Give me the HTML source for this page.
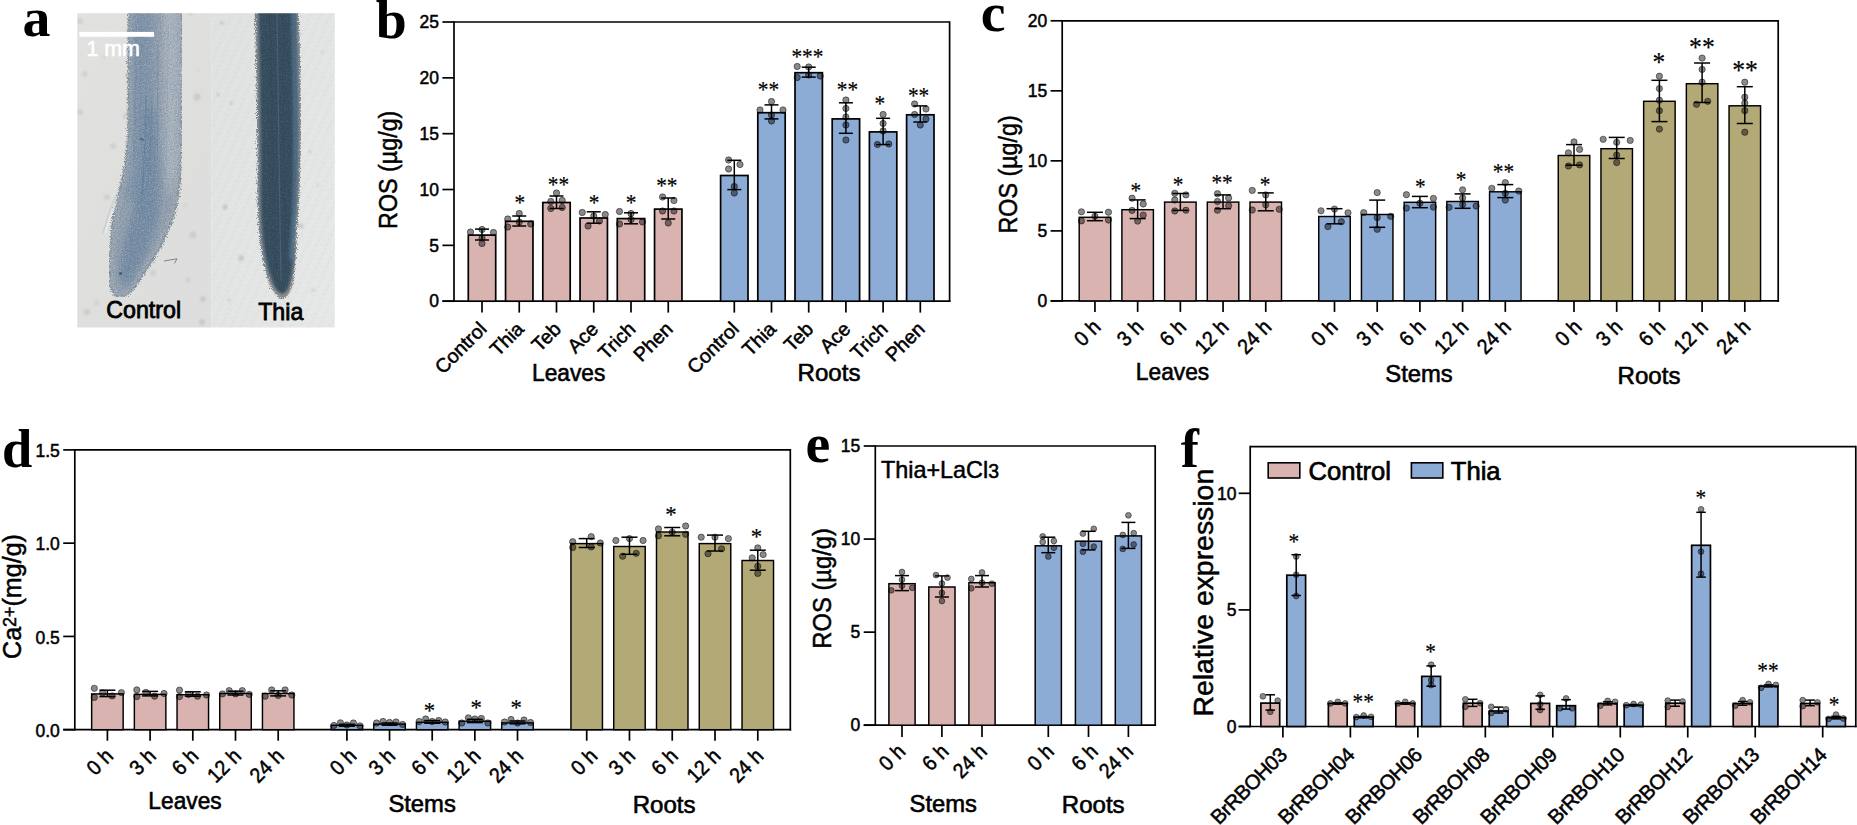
<!DOCTYPE html>
<html lang="en"><head><meta charset="utf-8"><title>Figure</title>
<style>html,body{margin:0;padding:0;background:#fff;}body{width:1857px;height:825px;overflow:hidden;}svg{display:block;}</style>
</head><body>
<svg width="1857" height="825" viewBox="0 0 1857 825">
<rect width="1857" height="825" fill="#fff"/>
<text x="22.60" y="35.60" font-family='"Liberation Serif", "Times New Roman", serif' font-size="55.8" font-weight="bold" text-anchor="start" fill="#000">a</text>
<defs>
<clipPath id="clipL"><rect x="77.3" y="13.2" width="133.9" height="314.3"/></clipPath>
<clipPath id="clipR"><rect x="211.2" y="13.2" width="123.6" height="314.3"/></clipPath>
<filter id="fuzz" x="-30%" y="-10%" width="160%" height="120%">
<feTurbulence type="fractalNoise" baseFrequency="0.85" numOctaves="2" seed="7" result="n"/>
<feDisplacementMap in="SourceGraphic" in2="n" scale="7" xChannelSelector="R" yChannelSelector="G"/>
<feGaussianBlur stdDeviation="0.7"/>
</filter>
<filter id="soft" x="-30%" y="-10%" width="160%" height="120%"><feGaussianBlur stdDeviation="3"/></filter>
<filter id="soft2" x="-30%" y="-10%" width="160%" height="120%"><feGaussianBlur stdDeviation="1.6"/></filter>
<filter id="spot" x="-100%" y="-100%" width="300%" height="300%"><feGaussianBlur stdDeviation="0.9"/></filter>
<filter id="grainC" x="0" y="0" width="100%" height="100%" color-interpolation-filters="sRGB">
<feTurbulence type="fractalNoise" baseFrequency="0.75" numOctaves="2" seed="11" result="n"/>
<feColorMatrix in="n" type="matrix" values="0 0 0 0 0.86  0 0 0 0 0.87  0 0 0 0 0.87  0.8 0 0 0 -0.30" result="w0"/><feGaussianBlur in="w0" stdDeviation="0.6" result="w"/>
<feColorMatrix in="n" type="matrix" values="0 0 0 0 0.30  0 0 0 0 0.38  0 0 0 0 0.48  0 -0.8 0 0 0.48" result="d0"/><feGaussianBlur in="d0" stdDeviation="0.6" result="d"/>
<feComposite in="w" in2="SourceAlpha" operator="in" result="w2"/>
<feComposite in="d" in2="SourceAlpha" operator="in" result="d2"/>
<feMerge><feMergeNode in="SourceGraphic"/><feMergeNode in="w2"/><feMergeNode in="d2"/></feMerge>
</filter>
<filter id="grainT" x="0" y="0" width="100%" height="100%" color-interpolation-filters="sRGB">
<feTurbulence type="fractalNoise" baseFrequency="0.75" numOctaves="2" seed="23" result="n"/>
<feColorMatrix in="n" type="matrix" values="0 0 0 0 0.62  0 0 0 0 0.66  0 0 0 0 0.70  0.5 0 0 0 -0.21" result="w0"/><feGaussianBlur in="w0" stdDeviation="0.6" result="w"/>
<feComposite in="w" in2="SourceAlpha" operator="in" result="w2"/>
<feMerge><feMergeNode in="SourceGraphic"/><feMergeNode in="w2"/></feMerge>
</filter>
<linearGradient id="bgL" x1="0" y1="0" x2="1" y2="1"><stop offset="0" stop-color="#e1e1df"/><stop offset="1" stop-color="#dcdddc"/></linearGradient>
<linearGradient id="bgR" x1="0" y1="0" x2="1" y2="1"><stop offset="0" stop-color="#dfe1e0"/><stop offset="1" stop-color="#e6e8e7"/></linearGradient>
<pattern id="dotsR" width="9" height="5.2" patternUnits="userSpaceOnUse" patternTransform="rotate(24)">
<circle cx="2" cy="2" r="0.9" fill="#c9cccb" fill-opacity="0.7"/><circle cx="6.5" cy="2.3" r="0.7" fill="#f2f3f3" fill-opacity="0.8"/>
</pattern>
</defs>
<rect x="77.3" y="13.2" width="133.9" height="314.3" fill="url(#bgL)"/>
<rect x="211.2" y="13.2" width="123.6" height="314.3" fill="url(#bgR)"/>
<rect x="211.2" y="13.2" width="123.6" height="314.3" fill="url(#dotsR)" opacity="0.55"/>
<g clip-path="url(#clipL)" filter="url(#spot)">
<circle cx="80" cy="21" r="2.6" fill="#8f918f" fill-opacity="0.35"/><circle cx="80" cy="21" r="1.04" fill="#e8e8e6" fill-opacity="0.7"/>
<circle cx="85" cy="74" r="2.4" fill="#8f918f" fill-opacity="0.3"/><circle cx="85" cy="74" r="0.96" fill="#e8e8e6" fill-opacity="0.7"/>
<circle cx="80" cy="112" r="2.6" fill="#8f918f" fill-opacity="0.35"/><circle cx="80" cy="112" r="1.04" fill="#e8e8e6" fill-opacity="0.7"/>
<circle cx="126" cy="116" r="3" fill="#8f918f" fill-opacity="0.3"/><circle cx="126" cy="116" r="1.20" fill="#e8e8e6" fill-opacity="0.7"/>
<circle cx="127" cy="75" r="2.2" fill="#8f918f" fill-opacity="0.25"/><circle cx="127" cy="75" r="0.88" fill="#e8e8e6" fill-opacity="0.7"/>
<circle cx="197" cy="97" r="3.2" fill="#8f918f" fill-opacity="0.35"/><circle cx="197" cy="97" r="1.28" fill="#e8e8e6" fill-opacity="0.7"/>
<circle cx="113" cy="146" r="2.6" fill="#8f918f" fill-opacity="0.3"/><circle cx="113" cy="146" r="1.04" fill="#e8e8e6" fill-opacity="0.7"/>
<circle cx="104" cy="57" r="1.6" fill="#8f918f" fill-opacity="0.25"/><circle cx="104" cy="57" r="0.64" fill="#e8e8e6" fill-opacity="0.7"/>
<circle cx="193" cy="235" r="3" fill="#8f918f" fill-opacity="0.35"/><circle cx="193" cy="235" r="1.20" fill="#e8e8e6" fill-opacity="0.7"/>
<circle cx="181" cy="26" r="1.5" fill="#8f918f" fill-opacity="0.3"/><circle cx="181" cy="26" r="0.60" fill="#e8e8e6" fill-opacity="0.7"/>
<circle cx="107" cy="197" r="2.6" fill="#8f918f" fill-opacity="0.3"/><circle cx="107" cy="197" r="1.04" fill="#e8e8e6" fill-opacity="0.7"/>
<circle cx="153" cy="273" r="2.5" fill="#8f918f" fill-opacity="0.3"/><circle cx="153" cy="273" r="1.00" fill="#e8e8e6" fill-opacity="0.7"/>
<circle cx="188" cy="280" r="2.2" fill="#8f918f" fill-opacity="0.3"/><circle cx="188" cy="280" r="0.88" fill="#e8e8e6" fill-opacity="0.7"/>
<circle cx="203" cy="299" r="2.5" fill="#8f918f" fill-opacity="0.4"/><circle cx="203" cy="299" r="1.00" fill="#e8e8e6" fill-opacity="0.7"/>
<circle cx="97" cy="303" r="2.2" fill="#8f918f" fill-opacity="0.3"/><circle cx="97" cy="303" r="0.88" fill="#e8e8e6" fill-opacity="0.7"/>
<circle cx="87" cy="312" r="2.6" fill="#8f918f" fill-opacity="0.4"/><circle cx="87" cy="312" r="1.04" fill="#e8e8e6" fill-opacity="0.7"/>
<circle cx="202" cy="322" r="2.6" fill="#8f918f" fill-opacity="0.4"/><circle cx="202" cy="322" r="1.04" fill="#e8e8e6" fill-opacity="0.7"/>
<circle cx="190" cy="13" r="2.4" fill="#8f918f" fill-opacity="0.3"/><circle cx="190" cy="13" r="0.96" fill="#e8e8e6" fill-opacity="0.7"/>
<circle cx="157" cy="66" r="1.6" fill="#8f918f" fill-opacity="0.2"/><circle cx="157" cy="66" r="0.64" fill="#e8e8e6" fill-opacity="0.7"/>
<circle cx="198" cy="70" r="1.6" fill="#8f918f" fill-opacity="0.2"/><circle cx="198" cy="70" r="0.64" fill="#e8e8e6" fill-opacity="0.7"/>
<circle cx="178" cy="122" r="1.4" fill="#8f918f" fill-opacity="0.2"/><circle cx="178" cy="122" r="0.56" fill="#e8e8e6" fill-opacity="0.7"/>
<circle cx="185" cy="205" r="1.6" fill="#8f918f" fill-opacity="0.2"/><circle cx="185" cy="205" r="0.64" fill="#e8e8e6" fill-opacity="0.7"/>
</g>
<g clip-path="url(#clipL)"><g filter="url(#grainC)">
<path d="M128.5,8 C128.5,60 128.5,100 128,130 C127.5,150 124,175 118,195 C114,210 111,230 110,250 C109,265 108.5,278 110,286 C112,293 116,297 121,297 C127,297 134,290 140,280 C148,268 157,254 163,242 C169,230 174.5,215 177,204 C179.5,190 180.5,175 180.8,165 C181.5,120 182,60 182,8 Z" fill="#9ba7b2" filter="url(#fuzz)"/>
<path d="M128.5,8 C128.5,60 128.5,100 128,130 C127.5,150 124,175 118,195 C114,210 111,230 110,250 C109,265 108.5,278 110,286 C112,293 116,297 121,297 C127,297 134,290 140,280 C148,268 157,254 163,242 C169,230 174.5,215 177,204 C179.5,190 180.5,175 180.8,165 C181.5,120 182,60 182,8 Z" fill="none" stroke="#5f6c78" stroke-width="1.6" stroke-opacity="0.55" filter="url(#fuzz)"/>
<path d="M132.5,8 C132.5,60 132.5,100 132,130 C131.5,150 128.5,175 122.5,196 C118.5,211 115.5,231 114.5,250 C113.5,264 113,276 114.2,283 C115.8,289.5 118.5,292.5 121.5,292.5 C126.5,292.5 131.5,286 136.5,277.5 C144,265.5 153,252 159,240 C165,228 170.5,213 173,203 C175.5,189 176.5,175 176.8,165 C177.5,120 178,60 178,8 Z" fill="#919fae" filter="url(#soft2)" opacity="0.95"/>
<path d="M133,8 C133,60 133,100 132.5,130 C132,155 129,180 124,200 L146,205 C150,185 152.5,160 153,130 C153.5,100 153.5,60 153,8 Z" fill="#7a90a8" filter="url(#soft)" opacity="0.9"/>
<path d="M143,110 C142.5,150 140,185 133,210 C127,232 119.5,256 119.5,270 C119.5,280 121.5,285.5 124.5,285.5 C129.5,285.5 134.5,277 139.5,267 C146,254 153,238 157.5,224 C161.5,211 160,160 155,110 Z" fill="#6c86a2" filter="url(#soft)" opacity="0.85"/>
<path d="M163,8 C164,60 164.5,120 165,160 C167,180 168.5,192 170,200 C173.5,188 176,176 177,165 C178,120 178.5,60 178.5,8 Z" fill="#bcc5cc" filter="url(#soft)" opacity="0.6"/>
<path d="M146,95 C145.5,130 144,170 141.5,203" fill="none" stroke="#50708f" stroke-width="1.0" stroke-opacity="0.6"/>
<path d="M152,95 C151,130 149.5,160 148,185" fill="none" stroke="#50708f" stroke-width="0.9" stroke-opacity="0.5"/>
<path d="M141,20 C141,60 140.5,100 140,140" fill="none" stroke="#6d8aa6" stroke-width="1.2" stroke-opacity="0.5"/>
<path d="M168,25 C168,70 167,120 166,160" fill="none" stroke="#8e9fae" stroke-width="1.0" stroke-opacity="0.5"/>
<path d="M158,40 C158,80 157.5,120 157,150" fill="none" stroke="#5f7f9e" stroke-width="1.3" stroke-opacity="0.4"/>
<path d="M136,30 C136,80 135.5,120 134,160" fill="none" stroke="#5f7f9e" stroke-width="1.2" stroke-opacity="0.35"/>
</g>
<circle cx="120.5" cy="273.5" r="1.6" fill="#3e4a5a" fill-opacity="0.8"/><rect x="140" y="138" width="3.6" height="1.8" fill="#3e4a5a" fill-opacity="0.75" transform="rotate(25 141 139)"/>
<path d="M164,261 l13,-2.2 l-2.5,4.5" fill="none" stroke="#5a7088" stroke-width="1" stroke-opacity="0.8"/>
<path d="M103,233 C106,222 111,205 116,196" fill="none" stroke="#c3cbd0" stroke-width="1.4" stroke-opacity="0.8"/><path d="M105,234 C108,224 112,211 117,201" fill="none" stroke="#eef0ef" stroke-width="1.2" stroke-opacity="0.7"/>
</g>
<g clip-path="url(#clipR)"><g filter="url(#grainT)">
<path d="M254.5,8 C256,50 257.3,110 257.6,165 C256.8,200 258.5,230 261,248 C263.5,266 268,282 273.5,291 C277,296.5 280,298.5 282.5,298.5 C285,298.5 288,296 290.5,290 C293.5,282 295.5,266 296.2,248 C297,225 299.5,200 300.3,170 C301.5,120 300.5,60 298.5,8 Z" fill="#7d878e" filter="url(#fuzz)"/>
<path d="M258.5,8 C259.5,50 260.5,110 260.8,165 C260,200 261.5,230 264,248 C266.5,265 270.5,279 275,287.5 C277.8,292.5 280.3,294 282.5,294 C284.5,294 287,292 289,286.5 C291.5,279 293,265 293.5,248 C294.2,225 296.3,200 297,170 C298,120 297,60 295.3,8 Z" fill="#324a5a" filter="url(#soft2)"/>
<path d="M291.5,8 C293,60 294,120 293.5,175 C292.5,215 291,240 289.5,262 L292.5,258 C293,235 295,205 295.8,170 C296.5,120 295.5,60 293.8,8 Z" fill="#5b86aa" filter="url(#soft2)" opacity="0.8"/>
<path d="M270,10 C271,80 272,170 276,270" fill="none" stroke="#2f4656" stroke-width="1.5" stroke-opacity="0.55"/>
<path d="M277,10 C278,80 279,170 281,280" fill="none" stroke="#557388" stroke-width="1.0" stroke-opacity="0.55"/>
<path d="M283,10 C284,80 285,170 285,275" fill="none" stroke="#2f4656" stroke-width="1.3" stroke-opacity="0.5"/>
<path d="M264,10 C265,80 266,170 270,262" fill="none" stroke="#34505f" stroke-width="1.6" stroke-opacity="0.45"/>
<path d="M268,276 C271,288 277,295.5 282.5,295.5 C288,295.5 291.5,288 293,277" fill="none" stroke="#a2948c" stroke-width="2.2" stroke-opacity="0.55" filter="url(#spot)"/>
</g></g>
<g clip-path="url(#clipR)" filter="url(#spot)">
<circle cx="222" cy="23" r="2" fill="#8f918f" fill-opacity="0.3"/>
<circle cx="218" cy="95" r="1.8" fill="#8f918f" fill-opacity="0.3"/>
<circle cx="231" cy="103" r="2" fill="#8f918f" fill-opacity="0.25"/>
<circle cx="225" cy="207" r="2.5" fill="#8f918f" fill-opacity="0.35"/>
<circle cx="241" cy="258" r="3" fill="#8f918f" fill-opacity="0.3"/>
<circle cx="301" cy="226" r="2.5" fill="#8f918f" fill-opacity="0.35"/>
<circle cx="295" cy="241" r="1.5" fill="#8f918f" fill-opacity="0.5"/>
<circle cx="318" cy="185" r="1.5" fill="#8f918f" fill-opacity="0.25"/>
<circle cx="310" cy="152" r="1.8" fill="#8f918f" fill-opacity="0.25"/>
<circle cx="322" cy="52" r="1.6" fill="#8f918f" fill-opacity="0.25"/>
<circle cx="313" cy="290" r="2" fill="#8f918f" fill-opacity="0.25"/>
<circle cx="229" cy="300" r="1.8" fill="#8f918f" fill-opacity="0.25"/>
</g>
<text x="106.30" y="317.90" font-family='"Liberation Sans", Arial, sans-serif' font-size="23.2" font-weight="normal" text-anchor="start" fill="#000" stroke="#000" stroke-width="0.8">Control</text>
<text x="258.20" y="319.80" font-family='"Liberation Sans", Arial, sans-serif' font-size="23.2" font-weight="normal" text-anchor="start" fill="#000" stroke="#000" stroke-width="0.8">Thia</text>
<rect x="79.3" y="31.9" width="74.8" height="4.9" fill="#fff"/>
<text x="86.40" y="55.80" font-family='"Liberation Sans", Arial, sans-serif' font-size="21.4" font-weight="normal" text-anchor="start" fill="#fff" stroke="#fff" stroke-width="0.6">1 mm</text>
<text x="375.70" y="37.80" font-family='"Liberation Serif", "Times New Roman", serif' font-size="55.8" font-weight="bold" text-anchor="start" fill="#000">b</text>
<line x1="454.00" y1="22.00" x2="949.60" y2="22.00" stroke="#000" stroke-width="1.7" stroke-linecap="butt"/>
<line x1="949.60" y1="21.15" x2="949.60" y2="302.05" stroke="#000" stroke-width="1.7" stroke-linecap="butt"/>
<line x1="454.00" y1="21.15" x2="454.00" y2="302.05" stroke="#000" stroke-width="1.7" stroke-linecap="butt"/>
<line x1="442.40" y1="301.20" x2="950.45" y2="301.20" stroke="#000" stroke-width="1.7" stroke-linecap="butt"/>
<line x1="442.40" y1="301.20" x2="454.00" y2="301.20" stroke="#000" stroke-width="1.7" stroke-linecap="butt"/>
<text x="439.00" y="307.46" font-family='"Liberation Sans", Arial, sans-serif' font-size="17.5" font-weight="normal" text-anchor="end" fill="#000" stroke="#000" stroke-width="0.5">0</text>
<line x1="442.40" y1="245.36" x2="454.00" y2="245.36" stroke="#000" stroke-width="1.7" stroke-linecap="butt"/>
<text x="439.00" y="251.62" font-family='"Liberation Sans", Arial, sans-serif' font-size="17.5" font-weight="normal" text-anchor="end" fill="#000" stroke="#000" stroke-width="0.5">5</text>
<line x1="442.40" y1="189.52" x2="454.00" y2="189.52" stroke="#000" stroke-width="1.7" stroke-linecap="butt"/>
<text x="439.00" y="195.78" font-family='"Liberation Sans", Arial, sans-serif' font-size="17.5" font-weight="normal" text-anchor="end" fill="#000" stroke="#000" stroke-width="0.5">10</text>
<line x1="442.40" y1="133.68" x2="454.00" y2="133.68" stroke="#000" stroke-width="1.7" stroke-linecap="butt"/>
<text x="439.00" y="139.94" font-family='"Liberation Sans", Arial, sans-serif' font-size="17.5" font-weight="normal" text-anchor="end" fill="#000" stroke="#000" stroke-width="0.5">15</text>
<line x1="442.40" y1="77.84" x2="454.00" y2="77.84" stroke="#000" stroke-width="1.7" stroke-linecap="butt"/>
<text x="439.00" y="84.11" font-family='"Liberation Sans", Arial, sans-serif' font-size="17.5" font-weight="normal" text-anchor="end" fill="#000" stroke="#000" stroke-width="0.5">20</text>
<line x1="442.40" y1="22.00" x2="454.00" y2="22.00" stroke="#000" stroke-width="1.7" stroke-linecap="butt"/>
<text x="439.00" y="28.27" font-family='"Liberation Sans", Arial, sans-serif' font-size="17.5" font-weight="normal" text-anchor="end" fill="#000" stroke="#000" stroke-width="0.5">25</text>
<text x="0.00" y="0.00" font-family='"Liberation Sans", Arial, sans-serif' font-size="25.2" font-weight="normal" text-anchor="middle" fill="#000" transform="translate(397.20 169.80) rotate(-90) scale(0.925 1)" stroke="#000" stroke-width="0.5">ROS (µg/g)</text>
<rect x="468.30" y="235.10" width="27.40" height="66.10" fill="#D9B3B0" stroke="#000" stroke-width="1.7"/>
<line x1="482.00" y1="229.10" x2="482.00" y2="240.00" stroke="#000" stroke-width="1.5" stroke-linecap="butt"/>
<line x1="475.00" y1="229.10" x2="489.00" y2="229.10" stroke="#000" stroke-width="1.5" stroke-linecap="butt"/>
<line x1="475.00" y1="240.00" x2="489.00" y2="240.00" stroke="#000" stroke-width="1.5" stroke-linecap="butt"/>
<circle cx="470.50" cy="232.00" r="3.15" fill="#000" fill-opacity="0.46" stroke="#000" stroke-opacity="0.6" stroke-width="0.8"/>
<circle cx="482.00" cy="229.50" r="3.15" fill="#000" fill-opacity="0.46" stroke="#000" stroke-opacity="0.6" stroke-width="0.8"/>
<circle cx="493.50" cy="232.50" r="3.15" fill="#000" fill-opacity="0.46" stroke="#000" stroke-opacity="0.6" stroke-width="0.8"/>
<circle cx="482.00" cy="238.00" r="3.15" fill="#000" fill-opacity="0.46" stroke="#000" stroke-opacity="0.6" stroke-width="0.8"/>
<circle cx="482.00" cy="243.50" r="3.15" fill="#000" fill-opacity="0.46" stroke="#000" stroke-opacity="0.6" stroke-width="0.8"/>
<rect x="505.55" y="221.30" width="27.40" height="79.90" fill="#D9B3B0" stroke="#000" stroke-width="1.7"/>
<line x1="519.25" y1="216.00" x2="519.25" y2="226.00" stroke="#000" stroke-width="1.5" stroke-linecap="butt"/>
<line x1="512.25" y1="216.00" x2="526.25" y2="216.00" stroke="#000" stroke-width="1.5" stroke-linecap="butt"/>
<line x1="512.25" y1="226.00" x2="526.25" y2="226.00" stroke="#000" stroke-width="1.5" stroke-linecap="butt"/>
<circle cx="507.75" cy="219.00" r="3.15" fill="#000" fill-opacity="0.46" stroke="#000" stroke-opacity="0.6" stroke-width="0.8"/>
<circle cx="519.25" cy="213.50" r="3.15" fill="#000" fill-opacity="0.46" stroke="#000" stroke-opacity="0.6" stroke-width="0.8"/>
<circle cx="507.75" cy="227.00" r="3.15" fill="#000" fill-opacity="0.46" stroke="#000" stroke-opacity="0.6" stroke-width="0.8"/>
<circle cx="519.25" cy="222.00" r="3.15" fill="#000" fill-opacity="0.46" stroke="#000" stroke-opacity="0.6" stroke-width="0.8"/>
<circle cx="530.75" cy="224.00" r="3.15" fill="#000" fill-opacity="0.46" stroke="#000" stroke-opacity="0.6" stroke-width="0.8"/>
<text x="0.00" y="0.00" font-family='"Liberation Serif", "Times New Roman", serif' font-size="23.3" font-weight="normal" text-anchor="middle" fill="#000" transform="translate(519.80 210.46) scale(0.915 1)" stroke="#000" stroke-width="0.2">*</text>
<rect x="542.80" y="202.50" width="27.40" height="98.70" fill="#D9B3B0" stroke="#000" stroke-width="1.7"/>
<line x1="556.50" y1="196.00" x2="556.50" y2="208.50" stroke="#000" stroke-width="1.5" stroke-linecap="butt"/>
<line x1="549.50" y1="196.00" x2="563.50" y2="196.00" stroke="#000" stroke-width="1.5" stroke-linecap="butt"/>
<line x1="549.50" y1="208.50" x2="563.50" y2="208.50" stroke="#000" stroke-width="1.5" stroke-linecap="butt"/>
<circle cx="556.50" cy="193.00" r="3.15" fill="#000" fill-opacity="0.46" stroke="#000" stroke-opacity="0.6" stroke-width="0.8"/>
<circle cx="550.80" cy="201.50" r="3.15" fill="#000" fill-opacity="0.46" stroke="#000" stroke-opacity="0.6" stroke-width="0.8"/>
<circle cx="562.20" cy="200.50" r="3.15" fill="#000" fill-opacity="0.46" stroke="#000" stroke-opacity="0.6" stroke-width="0.8"/>
<circle cx="550.80" cy="208.50" r="3.15" fill="#000" fill-opacity="0.46" stroke="#000" stroke-opacity="0.6" stroke-width="0.8"/>
<circle cx="562.20" cy="207.50" r="3.15" fill="#000" fill-opacity="0.46" stroke="#000" stroke-opacity="0.6" stroke-width="0.8"/>
<text x="0.00" y="0.00" font-family='"Liberation Serif", "Times New Roman", serif' font-size="23.3" font-weight="normal" text-anchor="middle" fill="#000" transform="translate(558.50 191.56) scale(0.915 1)" stroke="#000" stroke-width="0.2">**</text>
<rect x="580.05" y="218.00" width="27.40" height="83.20" fill="#D9B3B0" stroke="#000" stroke-width="1.7"/>
<line x1="593.75" y1="211.80" x2="593.75" y2="223.20" stroke="#000" stroke-width="1.5" stroke-linecap="butt"/>
<line x1="586.75" y1="211.80" x2="600.75" y2="211.80" stroke="#000" stroke-width="1.5" stroke-linecap="butt"/>
<line x1="586.75" y1="223.20" x2="600.75" y2="223.20" stroke="#000" stroke-width="1.5" stroke-linecap="butt"/>
<circle cx="582.25" cy="212.50" r="3.15" fill="#000" fill-opacity="0.46" stroke="#000" stroke-opacity="0.6" stroke-width="0.8"/>
<circle cx="605.25" cy="214.50" r="3.15" fill="#000" fill-opacity="0.46" stroke="#000" stroke-opacity="0.6" stroke-width="0.8"/>
<circle cx="593.75" cy="216.00" r="3.15" fill="#000" fill-opacity="0.46" stroke="#000" stroke-opacity="0.6" stroke-width="0.8"/>
<circle cx="599.45" cy="221.00" r="3.15" fill="#000" fill-opacity="0.46" stroke="#000" stroke-opacity="0.6" stroke-width="0.8"/>
<circle cx="588.05" cy="226.00" r="3.15" fill="#000" fill-opacity="0.46" stroke="#000" stroke-opacity="0.6" stroke-width="0.8"/>
<text x="0.00" y="0.00" font-family='"Liberation Serif", "Times New Roman", serif' font-size="23.3" font-weight="normal" text-anchor="middle" fill="#000" transform="translate(594.00 209.66) scale(0.915 1)" stroke="#000" stroke-width="0.2">*</text>
<rect x="617.30" y="218.60" width="27.40" height="82.60" fill="#D9B3B0" stroke="#000" stroke-width="1.7"/>
<line x1="631.00" y1="212.80" x2="631.00" y2="223.80" stroke="#000" stroke-width="1.5" stroke-linecap="butt"/>
<line x1="624.00" y1="212.80" x2="638.00" y2="212.80" stroke="#000" stroke-width="1.5" stroke-linecap="butt"/>
<line x1="624.00" y1="223.80" x2="638.00" y2="223.80" stroke="#000" stroke-width="1.5" stroke-linecap="butt"/>
<circle cx="619.50" cy="211.50" r="3.15" fill="#000" fill-opacity="0.46" stroke="#000" stroke-opacity="0.6" stroke-width="0.8"/>
<circle cx="631.00" cy="213.50" r="3.15" fill="#000" fill-opacity="0.46" stroke="#000" stroke-opacity="0.6" stroke-width="0.8"/>
<circle cx="631.00" cy="219.50" r="3.15" fill="#000" fill-opacity="0.46" stroke="#000" stroke-opacity="0.6" stroke-width="0.8"/>
<circle cx="619.50" cy="224.00" r="3.15" fill="#000" fill-opacity="0.46" stroke="#000" stroke-opacity="0.6" stroke-width="0.8"/>
<circle cx="642.50" cy="222.00" r="3.15" fill="#000" fill-opacity="0.46" stroke="#000" stroke-opacity="0.6" stroke-width="0.8"/>
<text x="0.00" y="0.00" font-family='"Liberation Serif", "Times New Roman", serif' font-size="23.3" font-weight="normal" text-anchor="middle" fill="#000" transform="translate(631.00 210.46) scale(0.915 1)" stroke="#000" stroke-width="0.2">*</text>
<rect x="654.55" y="209.10" width="27.40" height="92.10" fill="#D9B3B0" stroke="#000" stroke-width="1.7"/>
<line x1="668.25" y1="198.00" x2="668.25" y2="219.00" stroke="#000" stroke-width="1.5" stroke-linecap="butt"/>
<line x1="661.25" y1="198.00" x2="675.25" y2="198.00" stroke="#000" stroke-width="1.5" stroke-linecap="butt"/>
<line x1="661.25" y1="219.00" x2="675.25" y2="219.00" stroke="#000" stroke-width="1.5" stroke-linecap="butt"/>
<circle cx="662.55" cy="197.00" r="3.15" fill="#000" fill-opacity="0.46" stroke="#000" stroke-opacity="0.6" stroke-width="0.8"/>
<circle cx="673.95" cy="200.50" r="3.15" fill="#000" fill-opacity="0.46" stroke="#000" stroke-opacity="0.6" stroke-width="0.8"/>
<circle cx="662.55" cy="211.00" r="3.15" fill="#000" fill-opacity="0.46" stroke="#000" stroke-opacity="0.6" stroke-width="0.8"/>
<circle cx="673.95" cy="211.00" r="3.15" fill="#000" fill-opacity="0.46" stroke="#000" stroke-opacity="0.6" stroke-width="0.8"/>
<circle cx="668.25" cy="223.00" r="3.15" fill="#000" fill-opacity="0.46" stroke="#000" stroke-opacity="0.6" stroke-width="0.8"/>
<text x="0.00" y="0.00" font-family='"Liberation Serif", "Times New Roman", serif' font-size="23.3" font-weight="normal" text-anchor="middle" fill="#000" transform="translate(666.80 192.56) scale(0.915 1)" stroke="#000" stroke-width="0.2">**</text>
<rect x="720.60" y="175.50" width="27.40" height="125.70" fill="#8CABD5" stroke="#000" stroke-width="1.7"/>
<line x1="734.30" y1="160.30" x2="734.30" y2="189.60" stroke="#000" stroke-width="1.5" stroke-linecap="butt"/>
<line x1="727.30" y1="160.30" x2="741.30" y2="160.30" stroke="#000" stroke-width="1.5" stroke-linecap="butt"/>
<line x1="727.30" y1="189.60" x2="741.30" y2="189.60" stroke="#000" stroke-width="1.5" stroke-linecap="butt"/>
<circle cx="728.60" cy="160.00" r="3.15" fill="#000" fill-opacity="0.46" stroke="#000" stroke-opacity="0.6" stroke-width="0.8"/>
<circle cx="740.00" cy="164.50" r="3.15" fill="#000" fill-opacity="0.46" stroke="#000" stroke-opacity="0.6" stroke-width="0.8"/>
<circle cx="728.60" cy="169.00" r="3.15" fill="#000" fill-opacity="0.46" stroke="#000" stroke-opacity="0.6" stroke-width="0.8"/>
<circle cx="734.30" cy="186.50" r="3.15" fill="#000" fill-opacity="0.46" stroke="#000" stroke-opacity="0.6" stroke-width="0.8"/>
<circle cx="734.30" cy="193.00" r="3.15" fill="#000" fill-opacity="0.46" stroke="#000" stroke-opacity="0.6" stroke-width="0.8"/>
<rect x="757.80" y="112.70" width="27.40" height="188.50" fill="#8CABD5" stroke="#000" stroke-width="1.7"/>
<line x1="771.50" y1="104.90" x2="771.50" y2="118.90" stroke="#000" stroke-width="1.5" stroke-linecap="butt"/>
<line x1="764.50" y1="104.90" x2="778.50" y2="104.90" stroke="#000" stroke-width="1.5" stroke-linecap="butt"/>
<line x1="764.50" y1="118.90" x2="778.50" y2="118.90" stroke="#000" stroke-width="1.5" stroke-linecap="butt"/>
<circle cx="771.50" cy="101.50" r="3.15" fill="#000" fill-opacity="0.46" stroke="#000" stroke-opacity="0.6" stroke-width="0.8"/>
<circle cx="760.00" cy="110.00" r="3.15" fill="#000" fill-opacity="0.46" stroke="#000" stroke-opacity="0.6" stroke-width="0.8"/>
<circle cx="783.00" cy="110.00" r="3.15" fill="#000" fill-opacity="0.46" stroke="#000" stroke-opacity="0.6" stroke-width="0.8"/>
<circle cx="771.50" cy="115.00" r="3.15" fill="#000" fill-opacity="0.46" stroke="#000" stroke-opacity="0.6" stroke-width="0.8"/>
<circle cx="771.50" cy="121.00" r="3.15" fill="#000" fill-opacity="0.46" stroke="#000" stroke-opacity="0.6" stroke-width="0.8"/>
<text x="0.00" y="0.00" font-family='"Liberation Serif", "Times New Roman", serif' font-size="23.3" font-weight="normal" text-anchor="middle" fill="#000" transform="translate(768.50 96.56) scale(0.915 1)" stroke="#000" stroke-width="0.2">**</text>
<rect x="795.00" y="72.70" width="27.40" height="228.50" fill="#8CABD5" stroke="#000" stroke-width="1.7"/>
<line x1="808.70" y1="67.20" x2="808.70" y2="77.10" stroke="#000" stroke-width="1.5" stroke-linecap="butt"/>
<line x1="801.70" y1="67.20" x2="815.70" y2="67.20" stroke="#000" stroke-width="1.5" stroke-linecap="butt"/>
<line x1="801.70" y1="77.10" x2="815.70" y2="77.10" stroke="#000" stroke-width="1.5" stroke-linecap="butt"/>
<circle cx="797.20" cy="66.50" r="3.15" fill="#000" fill-opacity="0.46" stroke="#000" stroke-opacity="0.6" stroke-width="0.8"/>
<circle cx="808.70" cy="67.00" r="3.15" fill="#000" fill-opacity="0.46" stroke="#000" stroke-opacity="0.6" stroke-width="0.8"/>
<circle cx="797.20" cy="77.50" r="3.15" fill="#000" fill-opacity="0.46" stroke="#000" stroke-opacity="0.6" stroke-width="0.8"/>
<circle cx="808.70" cy="75.00" r="3.15" fill="#000" fill-opacity="0.46" stroke="#000" stroke-opacity="0.6" stroke-width="0.8"/>
<circle cx="820.20" cy="76.00" r="3.15" fill="#000" fill-opacity="0.46" stroke="#000" stroke-opacity="0.6" stroke-width="0.8"/>
<text x="0.00" y="0.00" font-family='"Liberation Serif", "Times New Roman", serif' font-size="23.3" font-weight="normal" text-anchor="middle" fill="#000" transform="translate(807.40 63.56) scale(0.915 1)" stroke="#000" stroke-width="0.2">***</text>
<rect x="832.20" y="118.90" width="27.40" height="182.30" fill="#8CABD5" stroke="#000" stroke-width="1.7"/>
<line x1="845.90" y1="102.80" x2="845.90" y2="133.30" stroke="#000" stroke-width="1.5" stroke-linecap="butt"/>
<line x1="838.90" y1="102.80" x2="852.90" y2="102.80" stroke="#000" stroke-width="1.5" stroke-linecap="butt"/>
<line x1="838.90" y1="133.30" x2="852.90" y2="133.30" stroke="#000" stroke-width="1.5" stroke-linecap="butt"/>
<circle cx="845.90" cy="100.00" r="3.15" fill="#000" fill-opacity="0.46" stroke="#000" stroke-opacity="0.6" stroke-width="0.8"/>
<circle cx="845.90" cy="108.50" r="3.15" fill="#000" fill-opacity="0.46" stroke="#000" stroke-opacity="0.6" stroke-width="0.8"/>
<circle cx="845.90" cy="117.00" r="3.15" fill="#000" fill-opacity="0.46" stroke="#000" stroke-opacity="0.6" stroke-width="0.8"/>
<circle cx="845.90" cy="125.00" r="3.15" fill="#000" fill-opacity="0.46" stroke="#000" stroke-opacity="0.6" stroke-width="0.8"/>
<circle cx="845.90" cy="140.00" r="3.15" fill="#000" fill-opacity="0.46" stroke="#000" stroke-opacity="0.6" stroke-width="0.8"/>
<text x="0.00" y="0.00" font-family='"Liberation Serif", "Times New Roman", serif' font-size="23.3" font-weight="normal" text-anchor="middle" fill="#000" transform="translate(847.50 97.16) scale(0.915 1)" stroke="#000" stroke-width="0.2">**</text>
<rect x="869.40" y="131.90" width="27.40" height="169.30" fill="#8CABD5" stroke="#000" stroke-width="1.7"/>
<line x1="883.10" y1="118.30" x2="883.10" y2="144.60" stroke="#000" stroke-width="1.5" stroke-linecap="butt"/>
<line x1="876.10" y1="118.30" x2="890.10" y2="118.30" stroke="#000" stroke-width="1.5" stroke-linecap="butt"/>
<line x1="876.10" y1="144.60" x2="890.10" y2="144.60" stroke="#000" stroke-width="1.5" stroke-linecap="butt"/>
<circle cx="883.10" cy="114.50" r="3.15" fill="#000" fill-opacity="0.46" stroke="#000" stroke-opacity="0.6" stroke-width="0.8"/>
<circle cx="883.10" cy="123.50" r="3.15" fill="#000" fill-opacity="0.46" stroke="#000" stroke-opacity="0.6" stroke-width="0.8"/>
<circle cx="883.10" cy="131.00" r="3.15" fill="#000" fill-opacity="0.46" stroke="#000" stroke-opacity="0.6" stroke-width="0.8"/>
<circle cx="877.40" cy="144.50" r="3.15" fill="#000" fill-opacity="0.46" stroke="#000" stroke-opacity="0.6" stroke-width="0.8"/>
<circle cx="888.80" cy="144.00" r="3.15" fill="#000" fill-opacity="0.46" stroke="#000" stroke-opacity="0.6" stroke-width="0.8"/>
<text x="0.00" y="0.00" font-family='"Liberation Serif", "Times New Roman", serif' font-size="23.3" font-weight="normal" text-anchor="middle" fill="#000" transform="translate(879.80 111.46) scale(0.915 1)" stroke="#000" stroke-width="0.2">*</text>
<rect x="906.60" y="114.80" width="27.40" height="186.40" fill="#8CABD5" stroke="#000" stroke-width="1.7"/>
<line x1="920.30" y1="105.90" x2="920.30" y2="122.00" stroke="#000" stroke-width="1.5" stroke-linecap="butt"/>
<line x1="913.30" y1="105.90" x2="927.30" y2="105.90" stroke="#000" stroke-width="1.5" stroke-linecap="butt"/>
<line x1="913.30" y1="122.00" x2="927.30" y2="122.00" stroke="#000" stroke-width="1.5" stroke-linecap="butt"/>
<circle cx="914.60" cy="104.00" r="3.15" fill="#000" fill-opacity="0.46" stroke="#000" stroke-opacity="0.6" stroke-width="0.8"/>
<circle cx="926.00" cy="109.00" r="3.15" fill="#000" fill-opacity="0.46" stroke="#000" stroke-opacity="0.6" stroke-width="0.8"/>
<circle cx="914.60" cy="114.50" r="3.15" fill="#000" fill-opacity="0.46" stroke="#000" stroke-opacity="0.6" stroke-width="0.8"/>
<circle cx="926.00" cy="119.00" r="3.15" fill="#000" fill-opacity="0.46" stroke="#000" stroke-opacity="0.6" stroke-width="0.8"/>
<circle cx="920.30" cy="125.00" r="3.15" fill="#000" fill-opacity="0.46" stroke="#000" stroke-opacity="0.6" stroke-width="0.8"/>
<text x="0.00" y="0.00" font-family='"Liberation Serif", "Times New Roman", serif' font-size="23.3" font-weight="normal" text-anchor="middle" fill="#000" transform="translate(918.60 102.56) scale(0.915 1)" stroke="#000" stroke-width="0.2">**</text>
<line x1="482.00" y1="301.20" x2="482.00" y2="312.60" stroke="#000" stroke-width="1.7" stroke-linecap="butt"/>
<text x="0.00" y="0.00" font-family='"Liberation Sans", Arial, sans-serif' font-size="19.7" font-weight="normal" text-anchor="end" fill="#000" transform="translate(487.80 330.20) rotate(-45)" stroke="#000" stroke-width="0.5">Control</text>
<line x1="519.25" y1="301.20" x2="519.25" y2="312.60" stroke="#000" stroke-width="1.7" stroke-linecap="butt"/>
<text x="0.00" y="0.00" font-family='"Liberation Sans", Arial, sans-serif' font-size="19.7" font-weight="normal" text-anchor="end" fill="#000" transform="translate(525.05 330.20) rotate(-45)" stroke="#000" stroke-width="0.5">Thia</text>
<line x1="556.50" y1="301.20" x2="556.50" y2="312.60" stroke="#000" stroke-width="1.7" stroke-linecap="butt"/>
<text x="0.00" y="0.00" font-family='"Liberation Sans", Arial, sans-serif' font-size="19.7" font-weight="normal" text-anchor="end" fill="#000" transform="translate(562.30 330.20) rotate(-45)" stroke="#000" stroke-width="0.5">Teb</text>
<line x1="593.75" y1="301.20" x2="593.75" y2="312.60" stroke="#000" stroke-width="1.7" stroke-linecap="butt"/>
<text x="0.00" y="0.00" font-family='"Liberation Sans", Arial, sans-serif' font-size="19.7" font-weight="normal" text-anchor="end" fill="#000" transform="translate(599.55 330.20) rotate(-45)" stroke="#000" stroke-width="0.5">Ace</text>
<line x1="631.00" y1="301.20" x2="631.00" y2="312.60" stroke="#000" stroke-width="1.7" stroke-linecap="butt"/>
<text x="0.00" y="0.00" font-family='"Liberation Sans", Arial, sans-serif' font-size="19.7" font-weight="normal" text-anchor="end" fill="#000" transform="translate(636.80 330.20) rotate(-45)" stroke="#000" stroke-width="0.5">Trich</text>
<line x1="668.25" y1="301.20" x2="668.25" y2="312.60" stroke="#000" stroke-width="1.7" stroke-linecap="butt"/>
<text x="0.00" y="0.00" font-family='"Liberation Sans", Arial, sans-serif' font-size="19.7" font-weight="normal" text-anchor="end" fill="#000" transform="translate(674.05 330.20) rotate(-45)" stroke="#000" stroke-width="0.5">Phen</text>
<line x1="734.30" y1="301.20" x2="734.30" y2="312.60" stroke="#000" stroke-width="1.7" stroke-linecap="butt"/>
<text x="0.00" y="0.00" font-family='"Liberation Sans", Arial, sans-serif' font-size="19.7" font-weight="normal" text-anchor="end" fill="#000" transform="translate(740.10 330.20) rotate(-45)" stroke="#000" stroke-width="0.5">Control</text>
<line x1="771.50" y1="301.20" x2="771.50" y2="312.60" stroke="#000" stroke-width="1.7" stroke-linecap="butt"/>
<text x="0.00" y="0.00" font-family='"Liberation Sans", Arial, sans-serif' font-size="19.7" font-weight="normal" text-anchor="end" fill="#000" transform="translate(777.30 330.20) rotate(-45)" stroke="#000" stroke-width="0.5">Thia</text>
<line x1="808.70" y1="301.20" x2="808.70" y2="312.60" stroke="#000" stroke-width="1.7" stroke-linecap="butt"/>
<text x="0.00" y="0.00" font-family='"Liberation Sans", Arial, sans-serif' font-size="19.7" font-weight="normal" text-anchor="end" fill="#000" transform="translate(814.50 330.20) rotate(-45)" stroke="#000" stroke-width="0.5">Teb</text>
<line x1="845.90" y1="301.20" x2="845.90" y2="312.60" stroke="#000" stroke-width="1.7" stroke-linecap="butt"/>
<text x="0.00" y="0.00" font-family='"Liberation Sans", Arial, sans-serif' font-size="19.7" font-weight="normal" text-anchor="end" fill="#000" transform="translate(851.70 330.20) rotate(-45)" stroke="#000" stroke-width="0.5">Ace</text>
<line x1="883.10" y1="301.20" x2="883.10" y2="312.60" stroke="#000" stroke-width="1.7" stroke-linecap="butt"/>
<text x="0.00" y="0.00" font-family='"Liberation Sans", Arial, sans-serif' font-size="19.7" font-weight="normal" text-anchor="end" fill="#000" transform="translate(888.90 330.20) rotate(-45)" stroke="#000" stroke-width="0.5">Trich</text>
<line x1="920.30" y1="301.20" x2="920.30" y2="312.60" stroke="#000" stroke-width="1.7" stroke-linecap="butt"/>
<text x="0.00" y="0.00" font-family='"Liberation Sans", Arial, sans-serif' font-size="19.7" font-weight="normal" text-anchor="end" fill="#000" transform="translate(926.10 330.20) rotate(-45)" stroke="#000" stroke-width="0.5">Phen</text>
<text x="0.00" y="0.00" font-family='"Liberation Sans", Arial, sans-serif' font-size="23.8" font-weight="normal" text-anchor="middle" fill="#000" transform="translate(568.70 380.50) scale(0.955 1)" stroke="#000" stroke-width="0.6">Leaves</text>
<text x="0.00" y="0.00" font-family='"Liberation Sans", Arial, sans-serif' font-size="23.8" font-weight="normal" text-anchor="middle" fill="#000" transform="translate(829.00 380.50) scale(1.012 1)" stroke="#000" stroke-width="0.6">Roots</text>
<text x="980.70" y="30.80" font-family='"Liberation Serif", "Times New Roman", serif' font-size="55.8" font-weight="bold" text-anchor="start" fill="#000">c</text>
<line x1="1062.20" y1="20.80" x2="1778.20" y2="20.80" stroke="#000" stroke-width="1.7" stroke-linecap="butt"/>
<line x1="1778.20" y1="19.95" x2="1778.20" y2="301.75" stroke="#000" stroke-width="1.7" stroke-linecap="butt"/>
<line x1="1062.20" y1="19.95" x2="1062.20" y2="301.75" stroke="#000" stroke-width="1.7" stroke-linecap="butt"/>
<line x1="1050.60" y1="300.90" x2="1779.05" y2="300.90" stroke="#000" stroke-width="1.7" stroke-linecap="butt"/>
<line x1="1050.60" y1="300.90" x2="1062.20" y2="300.90" stroke="#000" stroke-width="1.7" stroke-linecap="butt"/>
<text x="1047.20" y="307.16" font-family='"Liberation Sans", Arial, sans-serif' font-size="17.5" font-weight="normal" text-anchor="end" fill="#000" stroke="#000" stroke-width="0.5">0</text>
<line x1="1050.60" y1="230.88" x2="1062.20" y2="230.88" stroke="#000" stroke-width="1.7" stroke-linecap="butt"/>
<text x="1047.20" y="237.14" font-family='"Liberation Sans", Arial, sans-serif' font-size="17.5" font-weight="normal" text-anchor="end" fill="#000" stroke="#000" stroke-width="0.5">5</text>
<line x1="1050.60" y1="160.85" x2="1062.20" y2="160.85" stroke="#000" stroke-width="1.7" stroke-linecap="butt"/>
<text x="1047.20" y="167.11" font-family='"Liberation Sans", Arial, sans-serif' font-size="17.5" font-weight="normal" text-anchor="end" fill="#000" stroke="#000" stroke-width="0.5">10</text>
<line x1="1050.60" y1="90.82" x2="1062.20" y2="90.82" stroke="#000" stroke-width="1.7" stroke-linecap="butt"/>
<text x="1047.20" y="97.09" font-family='"Liberation Sans", Arial, sans-serif' font-size="17.5" font-weight="normal" text-anchor="end" fill="#000" stroke="#000" stroke-width="0.5">15</text>
<line x1="1050.60" y1="20.80" x2="1062.20" y2="20.80" stroke="#000" stroke-width="1.7" stroke-linecap="butt"/>
<text x="1047.20" y="27.07" font-family='"Liberation Sans", Arial, sans-serif' font-size="17.5" font-weight="normal" text-anchor="end" fill="#000" stroke="#000" stroke-width="0.5">20</text>
<text x="0.00" y="0.00" font-family='"Liberation Sans", Arial, sans-serif' font-size="25.2" font-weight="normal" text-anchor="middle" fill="#000" transform="translate(1016.60 174.40) rotate(-90) scale(0.925 1)" stroke="#000" stroke-width="0.5">ROS (µg/g)</text>
<rect x="1079.20" y="217.30" width="31.50" height="83.60" fill="#D9B3B0" stroke="#000" stroke-width="1.45"/>
<line x1="1094.95" y1="212.30" x2="1094.95" y2="220.70" stroke="#000" stroke-width="1.5" stroke-linecap="butt"/>
<line x1="1086.95" y1="212.30" x2="1102.95" y2="212.30" stroke="#000" stroke-width="1.5" stroke-linecap="butt"/>
<line x1="1086.95" y1="220.70" x2="1102.95" y2="220.70" stroke="#000" stroke-width="1.5" stroke-linecap="butt"/>
<circle cx="1081.45" cy="211.80" r="3.15" fill="#000" fill-opacity="0.46" stroke="#000" stroke-opacity="0.6" stroke-width="0.8"/>
<circle cx="1108.45" cy="212.20" r="3.15" fill="#000" fill-opacity="0.46" stroke="#000" stroke-opacity="0.6" stroke-width="0.8"/>
<circle cx="1081.45" cy="220.90" r="3.15" fill="#000" fill-opacity="0.46" stroke="#000" stroke-opacity="0.6" stroke-width="0.8"/>
<circle cx="1108.45" cy="220.00" r="3.15" fill="#000" fill-opacity="0.46" stroke="#000" stroke-opacity="0.6" stroke-width="0.8"/>
<circle cx="1094.95" cy="216.30" r="3.15" fill="#000" fill-opacity="0.46" stroke="#000" stroke-opacity="0.6" stroke-width="0.8"/>
<rect x="1121.90" y="209.70" width="31.50" height="91.20" fill="#D9B3B0" stroke="#000" stroke-width="1.45"/>
<line x1="1137.65" y1="199.90" x2="1137.65" y2="218.60" stroke="#000" stroke-width="1.5" stroke-linecap="butt"/>
<line x1="1129.65" y1="199.90" x2="1145.65" y2="199.90" stroke="#000" stroke-width="1.5" stroke-linecap="butt"/>
<line x1="1129.65" y1="218.60" x2="1145.65" y2="218.60" stroke="#000" stroke-width="1.5" stroke-linecap="butt"/>
<circle cx="1132.05" cy="198.20" r="3.15" fill="#000" fill-opacity="0.46" stroke="#000" stroke-opacity="0.6" stroke-width="0.8"/>
<circle cx="1143.25" cy="204.00" r="3.15" fill="#000" fill-opacity="0.46" stroke="#000" stroke-opacity="0.6" stroke-width="0.8"/>
<circle cx="1132.05" cy="210.40" r="3.15" fill="#000" fill-opacity="0.46" stroke="#000" stroke-opacity="0.6" stroke-width="0.8"/>
<circle cx="1143.25" cy="215.10" r="3.15" fill="#000" fill-opacity="0.46" stroke="#000" stroke-opacity="0.6" stroke-width="0.8"/>
<circle cx="1137.65" cy="221.10" r="3.15" fill="#000" fill-opacity="0.46" stroke="#000" stroke-opacity="0.6" stroke-width="0.8"/>
<text x="0.00" y="0.00" font-family='"Liberation Serif", "Times New Roman", serif' font-size="23.3" font-weight="normal" text-anchor="middle" fill="#000" transform="translate(1135.90 198.06) scale(0.915 1)" stroke="#000" stroke-width="0.2">*</text>
<rect x="1164.60" y="202.10" width="31.50" height="98.80" fill="#D9B3B0" stroke="#000" stroke-width="1.45"/>
<line x1="1180.35" y1="193.50" x2="1180.35" y2="210.40" stroke="#000" stroke-width="1.5" stroke-linecap="butt"/>
<line x1="1172.35" y1="193.50" x2="1188.35" y2="193.50" stroke="#000" stroke-width="1.5" stroke-linecap="butt"/>
<line x1="1172.35" y1="210.40" x2="1188.35" y2="210.40" stroke="#000" stroke-width="1.5" stroke-linecap="butt"/>
<circle cx="1174.75" cy="193.30" r="3.15" fill="#000" fill-opacity="0.46" stroke="#000" stroke-opacity="0.6" stroke-width="0.8"/>
<circle cx="1185.95" cy="194.90" r="3.15" fill="#000" fill-opacity="0.46" stroke="#000" stroke-opacity="0.6" stroke-width="0.8"/>
<circle cx="1174.75" cy="200.00" r="3.15" fill="#000" fill-opacity="0.46" stroke="#000" stroke-opacity="0.6" stroke-width="0.8"/>
<circle cx="1174.75" cy="211.00" r="3.15" fill="#000" fill-opacity="0.46" stroke="#000" stroke-opacity="0.6" stroke-width="0.8"/>
<circle cx="1185.95" cy="210.20" r="3.15" fill="#000" fill-opacity="0.46" stroke="#000" stroke-opacity="0.6" stroke-width="0.8"/>
<text x="0.00" y="0.00" font-family='"Liberation Serif", "Times New Roman", serif' font-size="23.3" font-weight="normal" text-anchor="middle" fill="#000" transform="translate(1178.20 191.66) scale(0.915 1)" stroke="#000" stroke-width="0.2">*</text>
<rect x="1207.30" y="202.10" width="31.50" height="98.80" fill="#D9B3B0" stroke="#000" stroke-width="1.45"/>
<line x1="1223.05" y1="194.90" x2="1223.05" y2="208.70" stroke="#000" stroke-width="1.5" stroke-linecap="butt"/>
<line x1="1215.05" y1="194.90" x2="1231.05" y2="194.90" stroke="#000" stroke-width="1.5" stroke-linecap="butt"/>
<line x1="1215.05" y1="208.70" x2="1231.05" y2="208.70" stroke="#000" stroke-width="1.5" stroke-linecap="butt"/>
<circle cx="1217.45" cy="193.70" r="3.15" fill="#000" fill-opacity="0.46" stroke="#000" stroke-opacity="0.6" stroke-width="0.8"/>
<circle cx="1228.65" cy="198.00" r="3.15" fill="#000" fill-opacity="0.46" stroke="#000" stroke-opacity="0.6" stroke-width="0.8"/>
<circle cx="1217.45" cy="201.50" r="3.15" fill="#000" fill-opacity="0.46" stroke="#000" stroke-opacity="0.6" stroke-width="0.8"/>
<circle cx="1228.65" cy="205.60" r="3.15" fill="#000" fill-opacity="0.46" stroke="#000" stroke-opacity="0.6" stroke-width="0.8"/>
<circle cx="1217.45" cy="210.20" r="3.15" fill="#000" fill-opacity="0.46" stroke="#000" stroke-opacity="0.6" stroke-width="0.8"/>
<text x="0.00" y="0.00" font-family='"Liberation Serif", "Times New Roman", serif' font-size="23.3" font-weight="normal" text-anchor="middle" fill="#000" transform="translate(1222.10 190.26) scale(0.915 1)" stroke="#000" stroke-width="0.2">**</text>
<rect x="1250.00" y="202.10" width="31.50" height="98.80" fill="#D9B3B0" stroke="#000" stroke-width="1.45"/>
<line x1="1265.75" y1="192.90" x2="1265.75" y2="210.80" stroke="#000" stroke-width="1.5" stroke-linecap="butt"/>
<line x1="1257.75" y1="192.90" x2="1273.75" y2="192.90" stroke="#000" stroke-width="1.5" stroke-linecap="butt"/>
<line x1="1257.75" y1="210.80" x2="1273.75" y2="210.80" stroke="#000" stroke-width="1.5" stroke-linecap="butt"/>
<circle cx="1252.25" cy="190.40" r="3.15" fill="#000" fill-opacity="0.46" stroke="#000" stroke-opacity="0.6" stroke-width="0.8"/>
<circle cx="1265.75" cy="194.90" r="3.15" fill="#000" fill-opacity="0.46" stroke="#000" stroke-opacity="0.6" stroke-width="0.8"/>
<circle cx="1265.75" cy="204.80" r="3.15" fill="#000" fill-opacity="0.46" stroke="#000" stroke-opacity="0.6" stroke-width="0.8"/>
<circle cx="1252.25" cy="210.00" r="3.15" fill="#000" fill-opacity="0.46" stroke="#000" stroke-opacity="0.6" stroke-width="0.8"/>
<circle cx="1279.25" cy="209.30" r="3.15" fill="#000" fill-opacity="0.46" stroke="#000" stroke-opacity="0.6" stroke-width="0.8"/>
<text x="0.00" y="0.00" font-family='"Liberation Serif", "Times New Roman", serif' font-size="23.3" font-weight="normal" text-anchor="middle" fill="#000" transform="translate(1265.10 192.36) scale(0.915 1)" stroke="#000" stroke-width="0.2">*</text>
<line x1="1094.95" y1="300.90" x2="1094.95" y2="311.90" stroke="#000" stroke-width="1.7" stroke-linecap="butt"/>
<text x="0.00" y="0.00" font-family='"Liberation Sans", Arial, sans-serif' font-size="21" font-weight="normal" text-anchor="end" fill="#000" transform="translate(1101.95 328.40) rotate(-45) scale(0.93 1)" stroke="#000" stroke-width="0.5">0 h</text>
<line x1="1137.65" y1="300.90" x2="1137.65" y2="311.90" stroke="#000" stroke-width="1.7" stroke-linecap="butt"/>
<text x="0.00" y="0.00" font-family='"Liberation Sans", Arial, sans-serif' font-size="21" font-weight="normal" text-anchor="end" fill="#000" transform="translate(1144.65 328.40) rotate(-45) scale(0.93 1)" stroke="#000" stroke-width="0.5">3 h</text>
<line x1="1180.35" y1="300.90" x2="1180.35" y2="311.90" stroke="#000" stroke-width="1.7" stroke-linecap="butt"/>
<text x="0.00" y="0.00" font-family='"Liberation Sans", Arial, sans-serif' font-size="21" font-weight="normal" text-anchor="end" fill="#000" transform="translate(1187.35 328.40) rotate(-45) scale(0.93 1)" stroke="#000" stroke-width="0.5">6 h</text>
<line x1="1223.05" y1="300.90" x2="1223.05" y2="311.90" stroke="#000" stroke-width="1.7" stroke-linecap="butt"/>
<text x="0.00" y="0.00" font-family='"Liberation Sans", Arial, sans-serif' font-size="21" font-weight="normal" text-anchor="end" fill="#000" transform="translate(1230.05 328.40) rotate(-45) scale(0.93 1)" stroke="#000" stroke-width="0.5">12 h</text>
<line x1="1265.75" y1="300.90" x2="1265.75" y2="311.90" stroke="#000" stroke-width="1.7" stroke-linecap="butt"/>
<text x="0.00" y="0.00" font-family='"Liberation Sans", Arial, sans-serif' font-size="21" font-weight="normal" text-anchor="end" fill="#000" transform="translate(1272.75 328.40) rotate(-45) scale(0.93 1)" stroke="#000" stroke-width="0.5">24 h</text>
<rect x="1318.75" y="216.50" width="31.50" height="84.40" fill="#8CABD5" stroke="#000" stroke-width="1.45"/>
<line x1="1334.50" y1="208.70" x2="1334.50" y2="223.80" stroke="#000" stroke-width="1.5" stroke-linecap="butt"/>
<line x1="1326.50" y1="208.70" x2="1342.50" y2="208.70" stroke="#000" stroke-width="1.5" stroke-linecap="butt"/>
<line x1="1326.50" y1="223.80" x2="1342.50" y2="223.80" stroke="#000" stroke-width="1.5" stroke-linecap="butt"/>
<circle cx="1321.00" cy="210.80" r="3.15" fill="#000" fill-opacity="0.46" stroke="#000" stroke-opacity="0.6" stroke-width="0.8"/>
<circle cx="1334.50" cy="209.10" r="3.15" fill="#000" fill-opacity="0.46" stroke="#000" stroke-opacity="0.6" stroke-width="0.8"/>
<circle cx="1348.00" cy="212.80" r="3.15" fill="#000" fill-opacity="0.46" stroke="#000" stroke-opacity="0.6" stroke-width="0.8"/>
<circle cx="1341.30" cy="221.70" r="3.15" fill="#000" fill-opacity="0.46" stroke="#000" stroke-opacity="0.6" stroke-width="0.8"/>
<circle cx="1327.90" cy="226.60" r="3.15" fill="#000" fill-opacity="0.46" stroke="#000" stroke-opacity="0.6" stroke-width="0.8"/>
<rect x="1361.45" y="214.50" width="31.50" height="86.40" fill="#8CABD5" stroke="#000" stroke-width="1.45"/>
<line x1="1377.20" y1="200.10" x2="1377.20" y2="227.30" stroke="#000" stroke-width="1.5" stroke-linecap="butt"/>
<line x1="1369.20" y1="200.10" x2="1385.20" y2="200.10" stroke="#000" stroke-width="1.5" stroke-linecap="butt"/>
<line x1="1369.20" y1="227.30" x2="1385.20" y2="227.30" stroke="#000" stroke-width="1.5" stroke-linecap="butt"/>
<circle cx="1377.20" cy="192.60" r="3.15" fill="#000" fill-opacity="0.46" stroke="#000" stroke-opacity="0.6" stroke-width="0.8"/>
<circle cx="1363.70" cy="212.60" r="3.15" fill="#000" fill-opacity="0.46" stroke="#000" stroke-opacity="0.6" stroke-width="0.8"/>
<circle cx="1390.70" cy="216.30" r="3.15" fill="#000" fill-opacity="0.46" stroke="#000" stroke-opacity="0.6" stroke-width="0.8"/>
<circle cx="1377.20" cy="217.60" r="3.15" fill="#000" fill-opacity="0.46" stroke="#000" stroke-opacity="0.6" stroke-width="0.8"/>
<circle cx="1377.20" cy="229.30" r="3.15" fill="#000" fill-opacity="0.46" stroke="#000" stroke-opacity="0.6" stroke-width="0.8"/>
<rect x="1404.15" y="202.30" width="31.50" height="98.60" fill="#8CABD5" stroke="#000" stroke-width="1.45"/>
<line x1="1419.90" y1="196.40" x2="1419.90" y2="207.70" stroke="#000" stroke-width="1.5" stroke-linecap="butt"/>
<line x1="1411.90" y1="196.40" x2="1427.90" y2="196.40" stroke="#000" stroke-width="1.5" stroke-linecap="butt"/>
<line x1="1411.90" y1="207.70" x2="1427.90" y2="207.70" stroke="#000" stroke-width="1.5" stroke-linecap="butt"/>
<circle cx="1406.40" cy="194.70" r="3.15" fill="#000" fill-opacity="0.46" stroke="#000" stroke-opacity="0.6" stroke-width="0.8"/>
<circle cx="1433.40" cy="198.40" r="3.15" fill="#000" fill-opacity="0.46" stroke="#000" stroke-opacity="0.6" stroke-width="0.8"/>
<circle cx="1419.90" cy="203.20" r="3.15" fill="#000" fill-opacity="0.46" stroke="#000" stroke-opacity="0.6" stroke-width="0.8"/>
<circle cx="1406.40" cy="208.10" r="3.15" fill="#000" fill-opacity="0.46" stroke="#000" stroke-opacity="0.6" stroke-width="0.8"/>
<circle cx="1433.40" cy="207.10" r="3.15" fill="#000" fill-opacity="0.46" stroke="#000" stroke-opacity="0.6" stroke-width="0.8"/>
<text x="0.00" y="0.00" font-family='"Liberation Serif", "Times New Roman", serif' font-size="23.3" font-weight="normal" text-anchor="middle" fill="#000" transform="translate(1420.40 194.46) scale(0.915 1)" stroke="#000" stroke-width="0.2">*</text>
<rect x="1446.85" y="201.50" width="31.50" height="99.40" fill="#8CABD5" stroke="#000" stroke-width="1.45"/>
<line x1="1462.60" y1="193.90" x2="1462.60" y2="208.30" stroke="#000" stroke-width="1.5" stroke-linecap="butt"/>
<line x1="1454.60" y1="193.90" x2="1470.60" y2="193.90" stroke="#000" stroke-width="1.5" stroke-linecap="butt"/>
<line x1="1454.60" y1="208.30" x2="1470.60" y2="208.30" stroke="#000" stroke-width="1.5" stroke-linecap="butt"/>
<circle cx="1462.60" cy="189.80" r="3.15" fill="#000" fill-opacity="0.46" stroke="#000" stroke-opacity="0.6" stroke-width="0.8"/>
<circle cx="1462.60" cy="198.00" r="3.15" fill="#000" fill-opacity="0.46" stroke="#000" stroke-opacity="0.6" stroke-width="0.8"/>
<circle cx="1462.60" cy="204.60" r="3.15" fill="#000" fill-opacity="0.46" stroke="#000" stroke-opacity="0.6" stroke-width="0.8"/>
<circle cx="1449.10" cy="207.30" r="3.15" fill="#000" fill-opacity="0.46" stroke="#000" stroke-opacity="0.6" stroke-width="0.8"/>
<circle cx="1476.10" cy="206.00" r="3.15" fill="#000" fill-opacity="0.46" stroke="#000" stroke-opacity="0.6" stroke-width="0.8"/>
<text x="0.00" y="0.00" font-family='"Liberation Serif", "Times New Roman", serif' font-size="23.3" font-weight="normal" text-anchor="middle" fill="#000" transform="translate(1461.10 187.06) scale(0.915 1)" stroke="#000" stroke-width="0.2">*</text>
<rect x="1489.55" y="191.80" width="31.50" height="109.10" fill="#8CABD5" stroke="#000" stroke-width="1.45"/>
<line x1="1505.30" y1="184.60" x2="1505.30" y2="197.60" stroke="#000" stroke-width="1.5" stroke-linecap="butt"/>
<line x1="1497.30" y1="184.60" x2="1513.30" y2="184.60" stroke="#000" stroke-width="1.5" stroke-linecap="butt"/>
<line x1="1497.30" y1="197.60" x2="1513.30" y2="197.60" stroke="#000" stroke-width="1.5" stroke-linecap="butt"/>
<circle cx="1505.30" cy="182.60" r="3.15" fill="#000" fill-opacity="0.46" stroke="#000" stroke-opacity="0.6" stroke-width="0.8"/>
<circle cx="1491.80" cy="188.30" r="3.15" fill="#000" fill-opacity="0.46" stroke="#000" stroke-opacity="0.6" stroke-width="0.8"/>
<circle cx="1518.80" cy="191.00" r="3.15" fill="#000" fill-opacity="0.46" stroke="#000" stroke-opacity="0.6" stroke-width="0.8"/>
<circle cx="1505.30" cy="193.30" r="3.15" fill="#000" fill-opacity="0.46" stroke="#000" stroke-opacity="0.6" stroke-width="0.8"/>
<circle cx="1505.30" cy="200.10" r="3.15" fill="#000" fill-opacity="0.46" stroke="#000" stroke-opacity="0.6" stroke-width="0.8"/>
<text x="0.00" y="0.00" font-family='"Liberation Serif", "Times New Roman", serif' font-size="23.3" font-weight="normal" text-anchor="middle" fill="#000" transform="translate(1503.40 179.06) scale(0.915 1)" stroke="#000" stroke-width="0.2">**</text>
<line x1="1334.50" y1="300.90" x2="1334.50" y2="311.90" stroke="#000" stroke-width="1.7" stroke-linecap="butt"/>
<text x="0.00" y="0.00" font-family='"Liberation Sans", Arial, sans-serif' font-size="21" font-weight="normal" text-anchor="end" fill="#000" transform="translate(1338.90 328.40) rotate(-45) scale(0.93 1)" stroke="#000" stroke-width="0.5">0 h</text>
<line x1="1377.20" y1="300.90" x2="1377.20" y2="311.90" stroke="#000" stroke-width="1.7" stroke-linecap="butt"/>
<text x="0.00" y="0.00" font-family='"Liberation Sans", Arial, sans-serif' font-size="21" font-weight="normal" text-anchor="end" fill="#000" transform="translate(1384.20 328.40) rotate(-45) scale(0.93 1)" stroke="#000" stroke-width="0.5">3 h</text>
<line x1="1419.90" y1="300.90" x2="1419.90" y2="311.90" stroke="#000" stroke-width="1.7" stroke-linecap="butt"/>
<text x="0.00" y="0.00" font-family='"Liberation Sans", Arial, sans-serif' font-size="21" font-weight="normal" text-anchor="end" fill="#000" transform="translate(1426.90 328.40) rotate(-45) scale(0.93 1)" stroke="#000" stroke-width="0.5">6 h</text>
<line x1="1462.60" y1="300.90" x2="1462.60" y2="311.90" stroke="#000" stroke-width="1.7" stroke-linecap="butt"/>
<text x="0.00" y="0.00" font-family='"Liberation Sans", Arial, sans-serif' font-size="21" font-weight="normal" text-anchor="end" fill="#000" transform="translate(1469.60 328.40) rotate(-45) scale(0.93 1)" stroke="#000" stroke-width="0.5">12 h</text>
<line x1="1505.30" y1="300.90" x2="1505.30" y2="311.90" stroke="#000" stroke-width="1.7" stroke-linecap="butt"/>
<text x="0.00" y="0.00" font-family='"Liberation Sans", Arial, sans-serif' font-size="21" font-weight="normal" text-anchor="end" fill="#000" transform="translate(1512.30 328.40) rotate(-45) scale(0.93 1)" stroke="#000" stroke-width="0.5">24 h</text>
<rect x="1558.25" y="155.50" width="31.50" height="145.40" fill="#B3A976" stroke="#000" stroke-width="1.45"/>
<line x1="1574.00" y1="144.60" x2="1574.00" y2="165.20" stroke="#000" stroke-width="1.5" stroke-linecap="butt"/>
<line x1="1566.00" y1="144.60" x2="1582.00" y2="144.60" stroke="#000" stroke-width="1.5" stroke-linecap="butt"/>
<line x1="1566.00" y1="165.20" x2="1582.00" y2="165.20" stroke="#000" stroke-width="1.5" stroke-linecap="butt"/>
<circle cx="1574.00" cy="141.90" r="3.15" fill="#000" fill-opacity="0.46" stroke="#000" stroke-opacity="0.6" stroke-width="0.8"/>
<circle cx="1568.40" cy="152.80" r="3.15" fill="#000" fill-opacity="0.46" stroke="#000" stroke-opacity="0.6" stroke-width="0.8"/>
<circle cx="1579.60" cy="149.40" r="3.15" fill="#000" fill-opacity="0.46" stroke="#000" stroke-opacity="0.6" stroke-width="0.8"/>
<circle cx="1568.40" cy="166.00" r="3.15" fill="#000" fill-opacity="0.46" stroke="#000" stroke-opacity="0.6" stroke-width="0.8"/>
<circle cx="1579.60" cy="164.90" r="3.15" fill="#000" fill-opacity="0.46" stroke="#000" stroke-opacity="0.6" stroke-width="0.8"/>
<rect x="1600.95" y="148.70" width="31.50" height="152.20" fill="#B3A976" stroke="#000" stroke-width="1.45"/>
<line x1="1616.70" y1="137.40" x2="1616.70" y2="158.50" stroke="#000" stroke-width="1.5" stroke-linecap="butt"/>
<line x1="1608.70" y1="137.40" x2="1624.70" y2="137.40" stroke="#000" stroke-width="1.5" stroke-linecap="butt"/>
<line x1="1608.70" y1="158.50" x2="1624.70" y2="158.50" stroke="#000" stroke-width="1.5" stroke-linecap="butt"/>
<circle cx="1603.20" cy="139.30" r="3.15" fill="#000" fill-opacity="0.46" stroke="#000" stroke-opacity="0.6" stroke-width="0.8"/>
<circle cx="1630.20" cy="140.40" r="3.15" fill="#000" fill-opacity="0.46" stroke="#000" stroke-opacity="0.6" stroke-width="0.8"/>
<circle cx="1616.70" cy="142.30" r="3.15" fill="#000" fill-opacity="0.46" stroke="#000" stroke-opacity="0.6" stroke-width="0.8"/>
<circle cx="1616.70" cy="155.10" r="3.15" fill="#000" fill-opacity="0.46" stroke="#000" stroke-opacity="0.6" stroke-width="0.8"/>
<circle cx="1616.70" cy="162.60" r="3.15" fill="#000" fill-opacity="0.46" stroke="#000" stroke-opacity="0.6" stroke-width="0.8"/>
<rect x="1643.65" y="101.30" width="31.50" height="199.60" fill="#B3A976" stroke="#000" stroke-width="1.45"/>
<line x1="1659.40" y1="80.30" x2="1659.40" y2="121.60" stroke="#000" stroke-width="1.5" stroke-linecap="butt"/>
<line x1="1651.40" y1="80.30" x2="1667.40" y2="80.30" stroke="#000" stroke-width="1.5" stroke-linecap="butt"/>
<line x1="1651.40" y1="121.60" x2="1667.40" y2="121.60" stroke="#000" stroke-width="1.5" stroke-linecap="butt"/>
<circle cx="1659.40" cy="76.20" r="3.15" fill="#000" fill-opacity="0.46" stroke="#000" stroke-opacity="0.6" stroke-width="0.8"/>
<circle cx="1659.40" cy="88.60" r="3.15" fill="#000" fill-opacity="0.46" stroke="#000" stroke-opacity="0.6" stroke-width="0.8"/>
<circle cx="1659.40" cy="100.20" r="3.15" fill="#000" fill-opacity="0.46" stroke="#000" stroke-opacity="0.6" stroke-width="0.8"/>
<circle cx="1659.40" cy="110.70" r="3.15" fill="#000" fill-opacity="0.46" stroke="#000" stroke-opacity="0.6" stroke-width="0.8"/>
<circle cx="1659.40" cy="129.10" r="3.15" fill="#000" fill-opacity="0.46" stroke="#000" stroke-opacity="0.6" stroke-width="0.8"/>
<text x="0.00" y="0.00" font-family='"Liberation Serif", "Times New Roman", serif' font-size="27.6" font-weight="normal" text-anchor="middle" fill="#000" transform="translate(1658.80 71.32) scale(0.92 1)" stroke="#000" stroke-width="0.2">*</text>
<rect x="1686.35" y="83.70" width="31.50" height="217.20" fill="#B3A976" stroke="#000" stroke-width="1.45"/>
<line x1="1702.10" y1="63.00" x2="1702.10" y2="102.50" stroke="#000" stroke-width="1.5" stroke-linecap="butt"/>
<line x1="1694.10" y1="63.00" x2="1710.10" y2="63.00" stroke="#000" stroke-width="1.5" stroke-linecap="butt"/>
<line x1="1694.10" y1="102.50" x2="1710.10" y2="102.50" stroke="#000" stroke-width="1.5" stroke-linecap="butt"/>
<circle cx="1702.10" cy="58.10" r="3.15" fill="#000" fill-opacity="0.46" stroke="#000" stroke-opacity="0.6" stroke-width="0.8"/>
<circle cx="1702.10" cy="69.40" r="3.15" fill="#000" fill-opacity="0.46" stroke="#000" stroke-opacity="0.6" stroke-width="0.8"/>
<circle cx="1702.10" cy="82.20" r="3.15" fill="#000" fill-opacity="0.46" stroke="#000" stroke-opacity="0.6" stroke-width="0.8"/>
<circle cx="1696.50" cy="104.30" r="3.15" fill="#000" fill-opacity="0.46" stroke="#000" stroke-opacity="0.6" stroke-width="0.8"/>
<circle cx="1707.70" cy="101.30" r="3.15" fill="#000" fill-opacity="0.46" stroke="#000" stroke-opacity="0.6" stroke-width="0.8"/>
<text x="0.00" y="0.00" font-family='"Liberation Serif", "Times New Roman", serif' font-size="27.6" font-weight="normal" text-anchor="middle" fill="#000" transform="translate(1701.90 56.42) scale(0.93 1)" stroke="#000" stroke-width="0.2">**</text>
<rect x="1729.05" y="105.80" width="31.50" height="195.10" fill="#B3A976" stroke="#000" stroke-width="1.45"/>
<line x1="1744.80" y1="86.70" x2="1744.80" y2="123.50" stroke="#000" stroke-width="1.5" stroke-linecap="butt"/>
<line x1="1736.80" y1="86.70" x2="1752.80" y2="86.70" stroke="#000" stroke-width="1.5" stroke-linecap="butt"/>
<line x1="1736.80" y1="123.50" x2="1752.80" y2="123.50" stroke="#000" stroke-width="1.5" stroke-linecap="butt"/>
<circle cx="1744.80" cy="82.20" r="3.15" fill="#000" fill-opacity="0.46" stroke="#000" stroke-opacity="0.6" stroke-width="0.8"/>
<circle cx="1744.80" cy="97.20" r="3.15" fill="#000" fill-opacity="0.46" stroke="#000" stroke-opacity="0.6" stroke-width="0.8"/>
<circle cx="1744.80" cy="103.20" r="3.15" fill="#000" fill-opacity="0.46" stroke="#000" stroke-opacity="0.6" stroke-width="0.8"/>
<circle cx="1744.80" cy="110.70" r="3.15" fill="#000" fill-opacity="0.46" stroke="#000" stroke-opacity="0.6" stroke-width="0.8"/>
<circle cx="1744.80" cy="132.20" r="3.15" fill="#000" fill-opacity="0.46" stroke="#000" stroke-opacity="0.6" stroke-width="0.8"/>
<text x="0.00" y="0.00" font-family='"Liberation Serif", "Times New Roman", serif' font-size="27.6" font-weight="normal" text-anchor="middle" fill="#000" transform="translate(1745.10 79.12) scale(0.93 1)" stroke="#000" stroke-width="0.2">**</text>
<line x1="1574.00" y1="300.90" x2="1574.00" y2="311.90" stroke="#000" stroke-width="1.7" stroke-linecap="butt"/>
<text x="0.00" y="0.00" font-family='"Liberation Sans", Arial, sans-serif' font-size="21" font-weight="normal" text-anchor="end" fill="#000" transform="translate(1583.00 328.40) rotate(-45) scale(0.93 1)" stroke="#000" stroke-width="0.5">0 h</text>
<line x1="1616.70" y1="300.90" x2="1616.70" y2="311.90" stroke="#000" stroke-width="1.7" stroke-linecap="butt"/>
<text x="0.00" y="0.00" font-family='"Liberation Sans", Arial, sans-serif' font-size="21" font-weight="normal" text-anchor="end" fill="#000" transform="translate(1623.70 328.40) rotate(-45) scale(0.93 1)" stroke="#000" stroke-width="0.5">3 h</text>
<line x1="1659.40" y1="300.90" x2="1659.40" y2="311.90" stroke="#000" stroke-width="1.7" stroke-linecap="butt"/>
<text x="0.00" y="0.00" font-family='"Liberation Sans", Arial, sans-serif' font-size="21" font-weight="normal" text-anchor="end" fill="#000" transform="translate(1666.40 328.40) rotate(-45) scale(0.93 1)" stroke="#000" stroke-width="0.5">6 h</text>
<line x1="1702.10" y1="300.90" x2="1702.10" y2="311.90" stroke="#000" stroke-width="1.7" stroke-linecap="butt"/>
<text x="0.00" y="0.00" font-family='"Liberation Sans", Arial, sans-serif' font-size="21" font-weight="normal" text-anchor="end" fill="#000" transform="translate(1709.10 328.40) rotate(-45) scale(0.93 1)" stroke="#000" stroke-width="0.5">12 h</text>
<line x1="1744.80" y1="300.90" x2="1744.80" y2="311.90" stroke="#000" stroke-width="1.7" stroke-linecap="butt"/>
<text x="0.00" y="0.00" font-family='"Liberation Sans", Arial, sans-serif' font-size="21" font-weight="normal" text-anchor="end" fill="#000" transform="translate(1751.80 328.40) rotate(-45) scale(0.93 1)" stroke="#000" stroke-width="0.5">24 h</text>
<text x="0.00" y="0.00" font-family='"Liberation Sans", Arial, sans-serif' font-size="23.8" font-weight="normal" text-anchor="middle" fill="#000" transform="translate(1172.50 379.60) scale(0.955 1)" stroke="#000" stroke-width="0.6">Leaves</text>
<text x="0.00" y="0.00" font-family='"Liberation Sans", Arial, sans-serif' font-size="23.8" font-weight="normal" text-anchor="middle" fill="#000" transform="translate(1419.00 381.90) scale(1.0 1)" stroke="#000" stroke-width="0.6">Stems</text>
<text x="0.00" y="0.00" font-family='"Liberation Sans", Arial, sans-serif' font-size="23.8" font-weight="normal" text-anchor="middle" fill="#000" transform="translate(1649.00 383.50) scale(1.012 1)" stroke="#000" stroke-width="0.6">Roots</text>
<text x="2.00" y="466.50" font-family='"Liberation Serif", "Times New Roman", serif' font-size="54.5" font-weight="bold" text-anchor="start" fill="#000">d</text>
<line x1="74.80" y1="449.90" x2="790.30" y2="449.90" stroke="#000" stroke-width="1.7" stroke-linecap="butt"/>
<line x1="790.30" y1="449.05" x2="790.30" y2="730.55" stroke="#000" stroke-width="1.7" stroke-linecap="butt"/>
<line x1="74.80" y1="449.05" x2="74.80" y2="730.55" stroke="#000" stroke-width="1.7" stroke-linecap="butt"/>
<line x1="63.20" y1="729.70" x2="791.15" y2="729.70" stroke="#000" stroke-width="1.7" stroke-linecap="butt"/>
<line x1="63.20" y1="729.70" x2="74.80" y2="729.70" stroke="#000" stroke-width="1.7" stroke-linecap="butt"/>
<text x="59.80" y="736.87" font-family='"Liberation Sans", Arial, sans-serif' font-size="17.5" font-weight="normal" text-anchor="end" fill="#000" stroke="#000" stroke-width="0.5">0.0</text>
<line x1="63.20" y1="636.43" x2="74.80" y2="636.43" stroke="#000" stroke-width="1.7" stroke-linecap="butt"/>
<text x="59.80" y="643.60" font-family='"Liberation Sans", Arial, sans-serif' font-size="17.5" font-weight="normal" text-anchor="end" fill="#000" stroke="#000" stroke-width="0.5">0.5</text>
<line x1="63.20" y1="543.17" x2="74.80" y2="543.17" stroke="#000" stroke-width="1.7" stroke-linecap="butt"/>
<text x="59.80" y="550.33" font-family='"Liberation Sans", Arial, sans-serif' font-size="17.5" font-weight="normal" text-anchor="end" fill="#000" stroke="#000" stroke-width="0.5">1.0</text>
<line x1="63.20" y1="449.90" x2="74.80" y2="449.90" stroke="#000" stroke-width="1.7" stroke-linecap="butt"/>
<text x="59.80" y="457.06" font-family='"Liberation Sans", Arial, sans-serif' font-size="17.5" font-weight="normal" text-anchor="end" fill="#000" stroke="#000" stroke-width="0.5">1.5</text>
<text transform="translate(20.6 596.5) rotate(-90) scale(0.995 1)" font-family='"Liberation Sans", Arial, sans-serif' font-size="25.2" text-anchor="middle" stroke="#000" stroke-width="0.5">Ca<tspan font-size="18" dy="-4.5">2+</tspan><tspan dy="4.5">(mg/g)</tspan></text>
<rect x="91.65" y="693.90" width="31.50" height="35.80" fill="#D9B3B0" stroke="#000" stroke-width="1.45"/>
<line x1="107.40" y1="690.20" x2="107.40" y2="696.60" stroke="#000" stroke-width="1.5" stroke-linecap="butt"/>
<line x1="99.40" y1="690.20" x2="115.40" y2="690.20" stroke="#000" stroke-width="1.5" stroke-linecap="butt"/>
<line x1="99.40" y1="696.60" x2="115.40" y2="696.60" stroke="#000" stroke-width="1.5" stroke-linecap="butt"/>
<circle cx="94.30" cy="688.30" r="3.15" fill="#000" fill-opacity="0.46" stroke="#000" stroke-opacity="0.6" stroke-width="0.8"/>
<circle cx="94.30" cy="697.40" r="3.15" fill="#000" fill-opacity="0.46" stroke="#000" stroke-opacity="0.6" stroke-width="0.8"/>
<circle cx="102.60" cy="692.90" r="3.15" fill="#000" fill-opacity="0.46" stroke="#000" stroke-opacity="0.6" stroke-width="0.8"/>
<circle cx="112.10" cy="695.90" r="3.15" fill="#000" fill-opacity="0.46" stroke="#000" stroke-opacity="0.6" stroke-width="0.8"/>
<circle cx="121.40" cy="692.60" r="3.15" fill="#000" fill-opacity="0.46" stroke="#000" stroke-opacity="0.6" stroke-width="0.8"/>
<rect x="134.35" y="694.40" width="31.50" height="35.30" fill="#D9B3B0" stroke="#000" stroke-width="1.45"/>
<line x1="150.10" y1="691.40" x2="150.10" y2="695.90" stroke="#000" stroke-width="1.5" stroke-linecap="butt"/>
<line x1="142.10" y1="691.40" x2="158.10" y2="691.40" stroke="#000" stroke-width="1.5" stroke-linecap="butt"/>
<line x1="142.10" y1="695.90" x2="158.10" y2="695.90" stroke="#000" stroke-width="1.5" stroke-linecap="butt"/>
<circle cx="136.80" cy="689.90" r="3.15" fill="#000" fill-opacity="0.46" stroke="#000" stroke-opacity="0.6" stroke-width="0.8"/>
<circle cx="136.80" cy="696.60" r="3.15" fill="#000" fill-opacity="0.46" stroke="#000" stroke-opacity="0.6" stroke-width="0.8"/>
<circle cx="145.90" cy="692.40" r="3.15" fill="#000" fill-opacity="0.46" stroke="#000" stroke-opacity="0.6" stroke-width="0.8"/>
<circle cx="154.60" cy="696.20" r="3.15" fill="#000" fill-opacity="0.46" stroke="#000" stroke-opacity="0.6" stroke-width="0.8"/>
<circle cx="164.00" cy="693.50" r="3.15" fill="#000" fill-opacity="0.46" stroke="#000" stroke-opacity="0.6" stroke-width="0.8"/>
<rect x="177.05" y="694.70" width="31.50" height="35.00" fill="#D9B3B0" stroke="#000" stroke-width="1.45"/>
<line x1="192.80" y1="691.80" x2="192.80" y2="696.20" stroke="#000" stroke-width="1.5" stroke-linecap="butt"/>
<line x1="184.80" y1="691.80" x2="200.80" y2="691.80" stroke="#000" stroke-width="1.5" stroke-linecap="butt"/>
<line x1="184.80" y1="696.20" x2="200.80" y2="696.20" stroke="#000" stroke-width="1.5" stroke-linecap="butt"/>
<circle cx="179.50" cy="690.20" r="3.15" fill="#000" fill-opacity="0.46" stroke="#000" stroke-opacity="0.6" stroke-width="0.8"/>
<circle cx="179.50" cy="696.60" r="3.15" fill="#000" fill-opacity="0.46" stroke="#000" stroke-opacity="0.6" stroke-width="0.8"/>
<circle cx="188.40" cy="694.40" r="3.15" fill="#000" fill-opacity="0.46" stroke="#000" stroke-opacity="0.6" stroke-width="0.8"/>
<circle cx="197.50" cy="696.20" r="3.15" fill="#000" fill-opacity="0.46" stroke="#000" stroke-opacity="0.6" stroke-width="0.8"/>
<circle cx="206.50" cy="695.00" r="3.15" fill="#000" fill-opacity="0.46" stroke="#000" stroke-opacity="0.6" stroke-width="0.8"/>
<rect x="219.75" y="693.50" width="31.50" height="36.20" fill="#D9B3B0" stroke="#000" stroke-width="1.45"/>
<line x1="235.50" y1="691.20" x2="235.50" y2="695.00" stroke="#000" stroke-width="1.5" stroke-linecap="butt"/>
<line x1="227.50" y1="691.20" x2="243.50" y2="691.20" stroke="#000" stroke-width="1.5" stroke-linecap="butt"/>
<line x1="227.50" y1="695.00" x2="243.50" y2="695.00" stroke="#000" stroke-width="1.5" stroke-linecap="butt"/>
<circle cx="222.40" cy="693.90" r="3.15" fill="#000" fill-opacity="0.46" stroke="#000" stroke-opacity="0.6" stroke-width="0.8"/>
<circle cx="229.20" cy="690.60" r="3.15" fill="#000" fill-opacity="0.46" stroke="#000" stroke-opacity="0.6" stroke-width="0.8"/>
<circle cx="235.50" cy="693.90" r="3.15" fill="#000" fill-opacity="0.46" stroke="#000" stroke-opacity="0.6" stroke-width="0.8"/>
<circle cx="242.30" cy="690.60" r="3.15" fill="#000" fill-opacity="0.46" stroke="#000" stroke-opacity="0.6" stroke-width="0.8"/>
<circle cx="249.20" cy="694.40" r="3.15" fill="#000" fill-opacity="0.46" stroke="#000" stroke-opacity="0.6" stroke-width="0.8"/>
<rect x="262.45" y="693.50" width="31.50" height="36.20" fill="#D9B3B0" stroke="#000" stroke-width="1.45"/>
<line x1="278.20" y1="690.80" x2="278.20" y2="695.90" stroke="#000" stroke-width="1.5" stroke-linecap="butt"/>
<line x1="270.20" y1="690.80" x2="286.20" y2="690.80" stroke="#000" stroke-width="1.5" stroke-linecap="butt"/>
<line x1="270.20" y1="695.90" x2="286.20" y2="695.90" stroke="#000" stroke-width="1.5" stroke-linecap="butt"/>
<circle cx="265.20" cy="696.20" r="3.15" fill="#000" fill-opacity="0.46" stroke="#000" stroke-opacity="0.6" stroke-width="0.8"/>
<circle cx="271.70" cy="689.90" r="3.15" fill="#000" fill-opacity="0.46" stroke="#000" stroke-opacity="0.6" stroke-width="0.8"/>
<circle cx="278.20" cy="695.40" r="3.15" fill="#000" fill-opacity="0.46" stroke="#000" stroke-opacity="0.6" stroke-width="0.8"/>
<circle cx="285.10" cy="689.90" r="3.15" fill="#000" fill-opacity="0.46" stroke="#000" stroke-opacity="0.6" stroke-width="0.8"/>
<circle cx="291.80" cy="695.00" r="3.15" fill="#000" fill-opacity="0.46" stroke="#000" stroke-opacity="0.6" stroke-width="0.8"/>
<line x1="107.40" y1="729.70" x2="107.40" y2="740.70" stroke="#000" stroke-width="1.7" stroke-linecap="butt"/>
<text x="0.00" y="0.00" font-family='"Liberation Sans", Arial, sans-serif' font-size="21" font-weight="normal" text-anchor="end" fill="#000" transform="translate(114.40 757.20) rotate(-45) scale(0.93 1)" stroke="#000" stroke-width="0.5">0 h</text>
<line x1="150.10" y1="729.70" x2="150.10" y2="740.70" stroke="#000" stroke-width="1.7" stroke-linecap="butt"/>
<text x="0.00" y="0.00" font-family='"Liberation Sans", Arial, sans-serif' font-size="21" font-weight="normal" text-anchor="end" fill="#000" transform="translate(157.10 757.20) rotate(-45) scale(0.93 1)" stroke="#000" stroke-width="0.5">3 h</text>
<line x1="192.80" y1="729.70" x2="192.80" y2="740.70" stroke="#000" stroke-width="1.7" stroke-linecap="butt"/>
<text x="0.00" y="0.00" font-family='"Liberation Sans", Arial, sans-serif' font-size="21" font-weight="normal" text-anchor="end" fill="#000" transform="translate(199.80 757.20) rotate(-45) scale(0.93 1)" stroke="#000" stroke-width="0.5">6 h</text>
<line x1="235.50" y1="729.70" x2="235.50" y2="740.70" stroke="#000" stroke-width="1.7" stroke-linecap="butt"/>
<text x="0.00" y="0.00" font-family='"Liberation Sans", Arial, sans-serif' font-size="21" font-weight="normal" text-anchor="end" fill="#000" transform="translate(242.50 757.20) rotate(-45) scale(0.93 1)" stroke="#000" stroke-width="0.5">12 h</text>
<line x1="278.20" y1="729.70" x2="278.20" y2="740.70" stroke="#000" stroke-width="1.7" stroke-linecap="butt"/>
<text x="0.00" y="0.00" font-family='"Liberation Sans", Arial, sans-serif' font-size="21" font-weight="normal" text-anchor="end" fill="#000" transform="translate(285.20 757.20) rotate(-45) scale(0.93 1)" stroke="#000" stroke-width="0.5">24 h</text>
<rect x="331.15" y="725.30" width="31.50" height="4.40" fill="#8CABD5" stroke="#000" stroke-width="1.45"/>
<line x1="346.90" y1="724.30" x2="346.90" y2="726.20" stroke="#000" stroke-width="1.5" stroke-linecap="butt"/>
<line x1="338.90" y1="724.30" x2="354.90" y2="724.30" stroke="#000" stroke-width="1.5" stroke-linecap="butt"/>
<line x1="338.90" y1="726.20" x2="354.90" y2="726.20" stroke="#000" stroke-width="1.5" stroke-linecap="butt"/>
<circle cx="333.90" cy="725.50" r="3.15" fill="#000" fill-opacity="0.46" stroke="#000" stroke-opacity="0.6" stroke-width="0.8"/>
<circle cx="340.40" cy="722.80" r="3.15" fill="#000" fill-opacity="0.46" stroke="#000" stroke-opacity="0.6" stroke-width="0.8"/>
<circle cx="346.90" cy="725.00" r="3.15" fill="#000" fill-opacity="0.46" stroke="#000" stroke-opacity="0.6" stroke-width="0.8"/>
<circle cx="353.40" cy="723.00" r="3.15" fill="#000" fill-opacity="0.46" stroke="#000" stroke-opacity="0.6" stroke-width="0.8"/>
<circle cx="359.90" cy="725.80" r="3.15" fill="#000" fill-opacity="0.46" stroke="#000" stroke-opacity="0.6" stroke-width="0.8"/>
<rect x="373.80" y="724.10" width="31.50" height="5.60" fill="#8CABD5" stroke="#000" stroke-width="1.45"/>
<line x1="389.55" y1="723.00" x2="389.55" y2="725.20" stroke="#000" stroke-width="1.5" stroke-linecap="butt"/>
<line x1="381.55" y1="723.00" x2="397.55" y2="723.00" stroke="#000" stroke-width="1.5" stroke-linecap="butt"/>
<line x1="381.55" y1="725.20" x2="397.55" y2="725.20" stroke="#000" stroke-width="1.5" stroke-linecap="butt"/>
<circle cx="376.55" cy="723.00" r="3.15" fill="#000" fill-opacity="0.46" stroke="#000" stroke-opacity="0.6" stroke-width="0.8"/>
<circle cx="383.05" cy="721.50" r="3.15" fill="#000" fill-opacity="0.46" stroke="#000" stroke-opacity="0.6" stroke-width="0.8"/>
<circle cx="389.55" cy="722.50" r="3.15" fill="#000" fill-opacity="0.46" stroke="#000" stroke-opacity="0.6" stroke-width="0.8"/>
<circle cx="396.05" cy="722.00" r="3.15" fill="#000" fill-opacity="0.46" stroke="#000" stroke-opacity="0.6" stroke-width="0.8"/>
<circle cx="402.55" cy="724.50" r="3.15" fill="#000" fill-opacity="0.46" stroke="#000" stroke-opacity="0.6" stroke-width="0.8"/>
<rect x="416.45" y="722.30" width="31.50" height="7.40" fill="#8CABD5" stroke="#000" stroke-width="1.45"/>
<line x1="432.20" y1="720.60" x2="432.20" y2="723.20" stroke="#000" stroke-width="1.5" stroke-linecap="butt"/>
<line x1="424.20" y1="720.60" x2="440.20" y2="720.60" stroke="#000" stroke-width="1.5" stroke-linecap="butt"/>
<line x1="424.20" y1="723.20" x2="440.20" y2="723.20" stroke="#000" stroke-width="1.5" stroke-linecap="butt"/>
<circle cx="419.20" cy="721.50" r="3.15" fill="#000" fill-opacity="0.46" stroke="#000" stroke-opacity="0.6" stroke-width="0.8"/>
<circle cx="425.70" cy="719.00" r="3.15" fill="#000" fill-opacity="0.46" stroke="#000" stroke-opacity="0.6" stroke-width="0.8"/>
<circle cx="432.20" cy="721.50" r="3.15" fill="#000" fill-opacity="0.46" stroke="#000" stroke-opacity="0.6" stroke-width="0.8"/>
<circle cx="438.70" cy="720.50" r="3.15" fill="#000" fill-opacity="0.46" stroke="#000" stroke-opacity="0.6" stroke-width="0.8"/>
<circle cx="445.20" cy="722.00" r="3.15" fill="#000" fill-opacity="0.46" stroke="#000" stroke-opacity="0.6" stroke-width="0.8"/>
<text x="0.00" y="0.00" font-family='"Liberation Serif", "Times New Roman", serif' font-size="23.8" font-weight="normal" text-anchor="middle" fill="#000" transform="translate(429.50 718.00) scale(0.96 1)" stroke="#000" stroke-width="0.2">*</text>
<rect x="459.10" y="721.20" width="31.50" height="8.50" fill="#8CABD5" stroke="#000" stroke-width="1.45"/>
<line x1="474.85" y1="719.30" x2="474.85" y2="722.60" stroke="#000" stroke-width="1.5" stroke-linecap="butt"/>
<line x1="466.85" y1="719.30" x2="482.85" y2="719.30" stroke="#000" stroke-width="1.5" stroke-linecap="butt"/>
<line x1="466.85" y1="722.60" x2="482.85" y2="722.60" stroke="#000" stroke-width="1.5" stroke-linecap="butt"/>
<circle cx="461.85" cy="723.00" r="3.15" fill="#000" fill-opacity="0.46" stroke="#000" stroke-opacity="0.6" stroke-width="0.8"/>
<circle cx="468.35" cy="717.80" r="3.15" fill="#000" fill-opacity="0.46" stroke="#000" stroke-opacity="0.6" stroke-width="0.8"/>
<circle cx="474.85" cy="719.00" r="3.15" fill="#000" fill-opacity="0.46" stroke="#000" stroke-opacity="0.6" stroke-width="0.8"/>
<circle cx="481.35" cy="718.50" r="3.15" fill="#000" fill-opacity="0.46" stroke="#000" stroke-opacity="0.6" stroke-width="0.8"/>
<circle cx="487.85" cy="723.00" r="3.15" fill="#000" fill-opacity="0.46" stroke="#000" stroke-opacity="0.6" stroke-width="0.8"/>
<text x="0.00" y="0.00" font-family='"Liberation Serif", "Times New Roman", serif' font-size="23.8" font-weight="normal" text-anchor="middle" fill="#000" transform="translate(476.20 715.30) scale(0.96 1)" stroke="#000" stroke-width="0.2">*</text>
<rect x="501.75" y="722.90" width="31.50" height="6.80" fill="#8CABD5" stroke="#000" stroke-width="1.45"/>
<line x1="517.50" y1="721.00" x2="517.50" y2="723.80" stroke="#000" stroke-width="1.5" stroke-linecap="butt"/>
<line x1="509.50" y1="721.00" x2="525.50" y2="721.00" stroke="#000" stroke-width="1.5" stroke-linecap="butt"/>
<line x1="509.50" y1="723.80" x2="525.50" y2="723.80" stroke="#000" stroke-width="1.5" stroke-linecap="butt"/>
<circle cx="504.50" cy="722.00" r="3.15" fill="#000" fill-opacity="0.46" stroke="#000" stroke-opacity="0.6" stroke-width="0.8"/>
<circle cx="511.00" cy="719.50" r="3.15" fill="#000" fill-opacity="0.46" stroke="#000" stroke-opacity="0.6" stroke-width="0.8"/>
<circle cx="517.50" cy="723.00" r="3.15" fill="#000" fill-opacity="0.46" stroke="#000" stroke-opacity="0.6" stroke-width="0.8"/>
<circle cx="524.00" cy="720.00" r="3.15" fill="#000" fill-opacity="0.46" stroke="#000" stroke-opacity="0.6" stroke-width="0.8"/>
<circle cx="530.50" cy="722.50" r="3.15" fill="#000" fill-opacity="0.46" stroke="#000" stroke-opacity="0.6" stroke-width="0.8"/>
<text x="0.00" y="0.00" font-family='"Liberation Serif", "Times New Roman", serif' font-size="23.8" font-weight="normal" text-anchor="middle" fill="#000" transform="translate(516.30 715.30) scale(0.96 1)" stroke="#000" stroke-width="0.2">*</text>
<line x1="346.90" y1="729.70" x2="346.90" y2="740.70" stroke="#000" stroke-width="1.7" stroke-linecap="butt"/>
<text x="0.00" y="0.00" font-family='"Liberation Sans", Arial, sans-serif' font-size="21" font-weight="normal" text-anchor="end" fill="#000" transform="translate(357.70 757.20) rotate(-45) scale(0.93 1)" stroke="#000" stroke-width="0.5">0 h</text>
<line x1="389.55" y1="729.70" x2="389.55" y2="740.70" stroke="#000" stroke-width="1.7" stroke-linecap="butt"/>
<text x="0.00" y="0.00" font-family='"Liberation Sans", Arial, sans-serif' font-size="21" font-weight="normal" text-anchor="end" fill="#000" transform="translate(396.55 757.20) rotate(-45) scale(0.93 1)" stroke="#000" stroke-width="0.5">3 h</text>
<line x1="432.20" y1="729.70" x2="432.20" y2="740.70" stroke="#000" stroke-width="1.7" stroke-linecap="butt"/>
<text x="0.00" y="0.00" font-family='"Liberation Sans", Arial, sans-serif' font-size="21" font-weight="normal" text-anchor="end" fill="#000" transform="translate(439.20 757.20) rotate(-45) scale(0.93 1)" stroke="#000" stroke-width="0.5">6 h</text>
<line x1="474.85" y1="729.70" x2="474.85" y2="740.70" stroke="#000" stroke-width="1.7" stroke-linecap="butt"/>
<text x="0.00" y="0.00" font-family='"Liberation Sans", Arial, sans-serif' font-size="21" font-weight="normal" text-anchor="end" fill="#000" transform="translate(481.85 757.20) rotate(-45) scale(0.93 1)" stroke="#000" stroke-width="0.5">12 h</text>
<line x1="517.50" y1="729.70" x2="517.50" y2="740.70" stroke="#000" stroke-width="1.7" stroke-linecap="butt"/>
<text x="0.00" y="0.00" font-family='"Liberation Sans", Arial, sans-serif' font-size="21" font-weight="normal" text-anchor="end" fill="#000" transform="translate(524.50 757.20) rotate(-45) scale(0.93 1)" stroke="#000" stroke-width="0.5">24 h</text>
<rect x="570.95" y="543.60" width="31.50" height="186.10" fill="#B3A976" stroke="#000" stroke-width="1.45"/>
<line x1="586.70" y1="538.60" x2="586.70" y2="547.50" stroke="#000" stroke-width="1.5" stroke-linecap="butt"/>
<line x1="578.70" y1="538.60" x2="594.70" y2="538.60" stroke="#000" stroke-width="1.5" stroke-linecap="butt"/>
<line x1="578.70" y1="547.50" x2="594.70" y2="547.50" stroke="#000" stroke-width="1.5" stroke-linecap="butt"/>
<circle cx="572.70" cy="541.70" r="3.15" fill="#000" fill-opacity="0.46" stroke="#000" stroke-opacity="0.6" stroke-width="0.8"/>
<circle cx="591.20" cy="536.60" r="3.15" fill="#000" fill-opacity="0.46" stroke="#000" stroke-opacity="0.6" stroke-width="0.8"/>
<circle cx="600.30" cy="543.00" r="3.15" fill="#000" fill-opacity="0.46" stroke="#000" stroke-opacity="0.6" stroke-width="0.8"/>
<circle cx="572.70" cy="547.50" r="3.15" fill="#000" fill-opacity="0.46" stroke="#000" stroke-opacity="0.6" stroke-width="0.8"/>
<circle cx="591.20" cy="546.90" r="3.15" fill="#000" fill-opacity="0.46" stroke="#000" stroke-opacity="0.6" stroke-width="0.8"/>
<rect x="613.72" y="546.50" width="31.50" height="183.20" fill="#B3A976" stroke="#000" stroke-width="1.45"/>
<line x1="629.47" y1="537.20" x2="629.47" y2="554.30" stroke="#000" stroke-width="1.5" stroke-linecap="butt"/>
<line x1="621.47" y1="537.20" x2="637.47" y2="537.20" stroke="#000" stroke-width="1.5" stroke-linecap="butt"/>
<line x1="621.47" y1="554.30" x2="637.47" y2="554.30" stroke="#000" stroke-width="1.5" stroke-linecap="butt"/>
<circle cx="615.87" cy="540.50" r="3.15" fill="#000" fill-opacity="0.46" stroke="#000" stroke-opacity="0.6" stroke-width="0.8"/>
<circle cx="629.47" cy="538.60" r="3.15" fill="#000" fill-opacity="0.46" stroke="#000" stroke-opacity="0.6" stroke-width="0.8"/>
<circle cx="643.07" cy="540.50" r="3.15" fill="#000" fill-opacity="0.46" stroke="#000" stroke-opacity="0.6" stroke-width="0.8"/>
<circle cx="622.67" cy="556.20" r="3.15" fill="#000" fill-opacity="0.46" stroke="#000" stroke-opacity="0.6" stroke-width="0.8"/>
<circle cx="636.27" cy="553.30" r="3.15" fill="#000" fill-opacity="0.46" stroke="#000" stroke-opacity="0.6" stroke-width="0.8"/>
<rect x="656.49" y="532.00" width="31.50" height="197.70" fill="#B3A976" stroke="#000" stroke-width="1.45"/>
<line x1="672.24" y1="527.50" x2="672.24" y2="535.80" stroke="#000" stroke-width="1.5" stroke-linecap="butt"/>
<line x1="664.24" y1="527.50" x2="680.24" y2="527.50" stroke="#000" stroke-width="1.5" stroke-linecap="butt"/>
<line x1="664.24" y1="535.80" x2="680.24" y2="535.80" stroke="#000" stroke-width="1.5" stroke-linecap="butt"/>
<circle cx="658.44" cy="528.90" r="3.15" fill="#000" fill-opacity="0.46" stroke="#000" stroke-opacity="0.6" stroke-width="0.8"/>
<circle cx="685.64" cy="526.00" r="3.15" fill="#000" fill-opacity="0.46" stroke="#000" stroke-opacity="0.6" stroke-width="0.8"/>
<circle cx="672.24" cy="532.30" r="3.15" fill="#000" fill-opacity="0.46" stroke="#000" stroke-opacity="0.6" stroke-width="0.8"/>
<circle cx="658.44" cy="535.80" r="3.15" fill="#000" fill-opacity="0.46" stroke="#000" stroke-opacity="0.6" stroke-width="0.8"/>
<circle cx="685.64" cy="534.30" r="3.15" fill="#000" fill-opacity="0.46" stroke="#000" stroke-opacity="0.6" stroke-width="0.8"/>
<text x="0.00" y="0.00" font-family='"Liberation Serif", "Times New Roman", serif' font-size="23.8" font-weight="normal" text-anchor="middle" fill="#000" transform="translate(671.00 522.40) scale(0.96 1)" stroke="#000" stroke-width="0.2">*</text>
<rect x="699.26" y="543.60" width="31.50" height="186.10" fill="#B3A976" stroke="#000" stroke-width="1.45"/>
<line x1="715.01" y1="535.10" x2="715.01" y2="551.00" stroke="#000" stroke-width="1.5" stroke-linecap="butt"/>
<line x1="707.01" y1="535.10" x2="723.01" y2="535.10" stroke="#000" stroke-width="1.5" stroke-linecap="butt"/>
<line x1="707.01" y1="551.00" x2="723.01" y2="551.00" stroke="#000" stroke-width="1.5" stroke-linecap="butt"/>
<circle cx="701.21" cy="537.20" r="3.15" fill="#000" fill-opacity="0.46" stroke="#000" stroke-opacity="0.6" stroke-width="0.8"/>
<circle cx="715.01" cy="537.20" r="3.15" fill="#000" fill-opacity="0.46" stroke="#000" stroke-opacity="0.6" stroke-width="0.8"/>
<circle cx="728.41" cy="538.60" r="3.15" fill="#000" fill-opacity="0.46" stroke="#000" stroke-opacity="0.6" stroke-width="0.8"/>
<circle cx="721.61" cy="548.80" r="3.15" fill="#000" fill-opacity="0.46" stroke="#000" stroke-opacity="0.6" stroke-width="0.8"/>
<circle cx="708.01" cy="553.70" r="3.15" fill="#000" fill-opacity="0.46" stroke="#000" stroke-opacity="0.6" stroke-width="0.8"/>
<rect x="742.03" y="560.50" width="31.50" height="169.20" fill="#B3A976" stroke="#000" stroke-width="1.45"/>
<line x1="757.78" y1="550.20" x2="757.78" y2="570.20" stroke="#000" stroke-width="1.5" stroke-linecap="butt"/>
<line x1="749.78" y1="550.20" x2="765.78" y2="550.20" stroke="#000" stroke-width="1.5" stroke-linecap="butt"/>
<line x1="749.78" y1="570.20" x2="765.78" y2="570.20" stroke="#000" stroke-width="1.5" stroke-linecap="butt"/>
<circle cx="757.78" cy="547.90" r="3.15" fill="#000" fill-opacity="0.46" stroke="#000" stroke-opacity="0.6" stroke-width="0.8"/>
<circle cx="763.18" cy="554.60" r="3.15" fill="#000" fill-opacity="0.46" stroke="#000" stroke-opacity="0.6" stroke-width="0.8"/>
<circle cx="752.18" cy="557.90" r="3.15" fill="#000" fill-opacity="0.46" stroke="#000" stroke-opacity="0.6" stroke-width="0.8"/>
<circle cx="757.78" cy="566.30" r="3.15" fill="#000" fill-opacity="0.46" stroke="#000" stroke-opacity="0.6" stroke-width="0.8"/>
<circle cx="757.78" cy="573.40" r="3.15" fill="#000" fill-opacity="0.46" stroke="#000" stroke-opacity="0.6" stroke-width="0.8"/>
<text x="0.00" y="0.00" font-family='"Liberation Serif", "Times New Roman", serif' font-size="23.8" font-weight="normal" text-anchor="middle" fill="#000" transform="translate(756.40 544.30) scale(0.96 1)" stroke="#000" stroke-width="0.2">*</text>
<line x1="586.70" y1="729.70" x2="586.70" y2="740.70" stroke="#000" stroke-width="1.7" stroke-linecap="butt"/>
<text x="0.00" y="0.00" font-family='"Liberation Sans", Arial, sans-serif' font-size="21" font-weight="normal" text-anchor="end" fill="#000" transform="translate(598.70 757.20) rotate(-45) scale(0.93 1)" stroke="#000" stroke-width="0.5">0 h</text>
<line x1="629.47" y1="729.70" x2="629.47" y2="740.70" stroke="#000" stroke-width="1.7" stroke-linecap="butt"/>
<text x="0.00" y="0.00" font-family='"Liberation Sans", Arial, sans-serif' font-size="21" font-weight="normal" text-anchor="end" fill="#000" transform="translate(636.47 757.20) rotate(-45) scale(0.93 1)" stroke="#000" stroke-width="0.5">3 h</text>
<line x1="672.24" y1="729.70" x2="672.24" y2="740.70" stroke="#000" stroke-width="1.7" stroke-linecap="butt"/>
<text x="0.00" y="0.00" font-family='"Liberation Sans", Arial, sans-serif' font-size="21" font-weight="normal" text-anchor="end" fill="#000" transform="translate(679.24 757.20) rotate(-45) scale(0.93 1)" stroke="#000" stroke-width="0.5">6 h</text>
<line x1="715.01" y1="729.70" x2="715.01" y2="740.70" stroke="#000" stroke-width="1.7" stroke-linecap="butt"/>
<text x="0.00" y="0.00" font-family='"Liberation Sans", Arial, sans-serif' font-size="21" font-weight="normal" text-anchor="end" fill="#000" transform="translate(722.01 757.20) rotate(-45) scale(0.93 1)" stroke="#000" stroke-width="0.5">12 h</text>
<line x1="757.78" y1="729.70" x2="757.78" y2="740.70" stroke="#000" stroke-width="1.7" stroke-linecap="butt"/>
<text x="0.00" y="0.00" font-family='"Liberation Sans", Arial, sans-serif' font-size="21" font-weight="normal" text-anchor="end" fill="#000" transform="translate(764.78 757.20) rotate(-45) scale(0.93 1)" stroke="#000" stroke-width="0.5">24 h</text>
<text x="0.00" y="0.00" font-family='"Liberation Sans", Arial, sans-serif' font-size="23.8" font-weight="normal" text-anchor="middle" fill="#000" transform="translate(185.00 809.40) scale(0.955 1)" stroke="#000" stroke-width="0.6">Leaves</text>
<text x="0.00" y="0.00" font-family='"Liberation Sans", Arial, sans-serif' font-size="23.8" font-weight="normal" text-anchor="middle" fill="#000" transform="translate(422.10 811.50) scale(1.0 1)" stroke="#000" stroke-width="0.6">Stems</text>
<text x="0.00" y="0.00" font-family='"Liberation Sans", Arial, sans-serif' font-size="23.8" font-weight="normal" text-anchor="middle" fill="#000" transform="translate(664.10 813.30) scale(1.012 1)" stroke="#000" stroke-width="0.6">Roots</text>
<text x="805.50" y="462.40" font-family='"Liberation Serif", "Times New Roman", serif' font-size="55.8" font-weight="bold" text-anchor="start" fill="#000">e</text>
<line x1="875.30" y1="446.00" x2="1155.20" y2="446.00" stroke="#000" stroke-width="1.7" stroke-linecap="butt"/>
<line x1="1155.20" y1="445.15" x2="1155.20" y2="726.05" stroke="#000" stroke-width="1.7" stroke-linecap="butt"/>
<line x1="875.30" y1="445.15" x2="875.30" y2="726.05" stroke="#000" stroke-width="1.7" stroke-linecap="butt"/>
<line x1="863.70" y1="725.20" x2="1156.05" y2="725.20" stroke="#000" stroke-width="1.7" stroke-linecap="butt"/>
<line x1="863.70" y1="725.20" x2="875.30" y2="725.20" stroke="#000" stroke-width="1.7" stroke-linecap="butt"/>
<text x="860.30" y="731.47" font-family='"Liberation Sans", Arial, sans-serif' font-size="17.5" font-weight="normal" text-anchor="end" fill="#000" stroke="#000" stroke-width="0.5">0</text>
<line x1="863.70" y1="632.13" x2="875.30" y2="632.13" stroke="#000" stroke-width="1.7" stroke-linecap="butt"/>
<text x="860.30" y="638.40" font-family='"Liberation Sans", Arial, sans-serif' font-size="17.5" font-weight="normal" text-anchor="end" fill="#000" stroke="#000" stroke-width="0.5">5</text>
<line x1="863.70" y1="539.07" x2="875.30" y2="539.07" stroke="#000" stroke-width="1.7" stroke-linecap="butt"/>
<text x="860.30" y="545.33" font-family='"Liberation Sans", Arial, sans-serif' font-size="17.5" font-weight="normal" text-anchor="end" fill="#000" stroke="#000" stroke-width="0.5">10</text>
<line x1="863.70" y1="446.00" x2="875.30" y2="446.00" stroke="#000" stroke-width="1.7" stroke-linecap="butt"/>
<text x="860.30" y="452.26" font-family='"Liberation Sans", Arial, sans-serif' font-size="17.5" font-weight="normal" text-anchor="end" fill="#000" stroke="#000" stroke-width="0.5">15</text>
<text x="0.00" y="0.00" font-family='"Liberation Sans", Arial, sans-serif' font-size="25.4" font-weight="normal" text-anchor="middle" fill="#000" transform="translate(831.10 588.40) rotate(-90) scale(0.935 1)" stroke="#000" stroke-width="0.5">ROS (µg/g)</text>
<text x="880.9" y="478.2" font-family='"Liberation Sans", Arial, sans-serif' font-size="23.4" stroke="#000" stroke-width="0.5">Thia+LaCl<tspan font-size="19.5">3</tspan></text>
<rect x="888.90" y="583.70" width="26.20" height="141.50" fill="#D9B3B0" stroke="#000" stroke-width="1.5"/>
<line x1="902.00" y1="575.60" x2="902.00" y2="590.60" stroke="#000" stroke-width="1.5" stroke-linecap="butt"/>
<line x1="895.00" y1="575.60" x2="909.00" y2="575.60" stroke="#000" stroke-width="1.5" stroke-linecap="butt"/>
<line x1="895.00" y1="590.60" x2="909.00" y2="590.60" stroke="#000" stroke-width="1.5" stroke-linecap="butt"/>
<circle cx="902.00" cy="572.00" r="2.9" fill="#000" fill-opacity="0.46" stroke="#000" stroke-opacity="0.6" stroke-width="0.8"/>
<circle cx="902.00" cy="579.70" r="2.9" fill="#000" fill-opacity="0.46" stroke="#000" stroke-opacity="0.6" stroke-width="0.8"/>
<circle cx="891.30" cy="590.30" r="2.9" fill="#000" fill-opacity="0.46" stroke="#000" stroke-opacity="0.6" stroke-width="0.8"/>
<circle cx="912.20" cy="587.80" r="2.9" fill="#000" fill-opacity="0.46" stroke="#000" stroke-opacity="0.6" stroke-width="0.8"/>
<circle cx="902.00" cy="585.80" r="2.9" fill="#000" fill-opacity="0.46" stroke="#000" stroke-opacity="0.6" stroke-width="0.8"/>
<line x1="902.00" y1="725.20" x2="902.00" y2="737.00" stroke="#000" stroke-width="1.7" stroke-linecap="butt"/>
<text x="0.00" y="0.00" font-family='"Liberation Sans", Arial, sans-serif' font-size="21" font-weight="normal" text-anchor="end" fill="#000" transform="translate(906.70 752.70) rotate(-45) scale(0.93 1)" stroke="#000" stroke-width="0.5">0 h</text>
<rect x="928.80" y="587.00" width="26.20" height="138.20" fill="#D9B3B0" stroke="#000" stroke-width="1.5"/>
<line x1="941.90" y1="575.90" x2="941.90" y2="597.00" stroke="#000" stroke-width="1.5" stroke-linecap="butt"/>
<line x1="934.90" y1="575.90" x2="948.90" y2="575.90" stroke="#000" stroke-width="1.5" stroke-linecap="butt"/>
<line x1="934.90" y1="597.00" x2="948.90" y2="597.00" stroke="#000" stroke-width="1.5" stroke-linecap="butt"/>
<circle cx="936.00" cy="575.10" r="2.9" fill="#000" fill-opacity="0.46" stroke="#000" stroke-opacity="0.6" stroke-width="0.8"/>
<circle cx="947.50" cy="577.60" r="2.9" fill="#000" fill-opacity="0.46" stroke="#000" stroke-opacity="0.6" stroke-width="0.8"/>
<circle cx="941.90" cy="583.50" r="2.9" fill="#000" fill-opacity="0.46" stroke="#000" stroke-opacity="0.6" stroke-width="0.8"/>
<circle cx="941.90" cy="592.90" r="2.9" fill="#000" fill-opacity="0.46" stroke="#000" stroke-opacity="0.6" stroke-width="0.8"/>
<circle cx="941.90" cy="601.00" r="2.9" fill="#000" fill-opacity="0.46" stroke="#000" stroke-opacity="0.6" stroke-width="0.8"/>
<line x1="941.90" y1="725.20" x2="941.90" y2="737.00" stroke="#000" stroke-width="1.7" stroke-linecap="butt"/>
<text x="0.00" y="0.00" font-family='"Liberation Sans", Arial, sans-serif' font-size="21" font-weight="normal" text-anchor="end" fill="#000" transform="translate(949.90 752.70) rotate(-45) scale(0.93 1)" stroke="#000" stroke-width="0.5">6 h</text>
<rect x="968.90" y="582.70" width="26.20" height="142.50" fill="#D9B3B0" stroke="#000" stroke-width="1.5"/>
<line x1="982.00" y1="575.60" x2="982.00" y2="587.00" stroke="#000" stroke-width="1.5" stroke-linecap="butt"/>
<line x1="975.00" y1="575.60" x2="989.00" y2="575.60" stroke="#000" stroke-width="1.5" stroke-linecap="butt"/>
<line x1="975.00" y1="587.00" x2="989.00" y2="587.00" stroke="#000" stroke-width="1.5" stroke-linecap="butt"/>
<circle cx="982.00" cy="572.50" r="2.9" fill="#000" fill-opacity="0.46" stroke="#000" stroke-opacity="0.6" stroke-width="0.8"/>
<circle cx="971.30" cy="578.90" r="2.9" fill="#000" fill-opacity="0.46" stroke="#000" stroke-opacity="0.6" stroke-width="0.8"/>
<circle cx="982.00" cy="582.70" r="2.9" fill="#000" fill-opacity="0.46" stroke="#000" stroke-opacity="0.6" stroke-width="0.8"/>
<circle cx="991.90" cy="583.70" r="2.9" fill="#000" fill-opacity="0.46" stroke="#000" stroke-opacity="0.6" stroke-width="0.8"/>
<circle cx="971.30" cy="588.30" r="2.9" fill="#000" fill-opacity="0.46" stroke="#000" stroke-opacity="0.6" stroke-width="0.8"/>
<line x1="982.00" y1="725.20" x2="982.00" y2="737.00" stroke="#000" stroke-width="1.7" stroke-linecap="butt"/>
<text x="0.00" y="0.00" font-family='"Liberation Sans", Arial, sans-serif' font-size="21" font-weight="normal" text-anchor="end" fill="#000" transform="translate(988.30 752.70) rotate(-45) scale(0.93 1)" stroke="#000" stroke-width="0.5">24 h</text>
<rect x="1035.20" y="545.80" width="26.20" height="179.40" fill="#8CABD5" stroke="#000" stroke-width="1.5"/>
<line x1="1048.30" y1="537.20" x2="1048.30" y2="552.70" stroke="#000" stroke-width="1.5" stroke-linecap="butt"/>
<line x1="1041.30" y1="537.20" x2="1055.30" y2="537.20" stroke="#000" stroke-width="1.5" stroke-linecap="butt"/>
<line x1="1041.30" y1="552.70" x2="1055.30" y2="552.70" stroke="#000" stroke-width="1.5" stroke-linecap="butt"/>
<circle cx="1042.70" cy="536.40" r="2.9" fill="#000" fill-opacity="0.46" stroke="#000" stroke-opacity="0.6" stroke-width="0.8"/>
<circle cx="1042.70" cy="542.00" r="2.9" fill="#000" fill-opacity="0.46" stroke="#000" stroke-opacity="0.6" stroke-width="0.8"/>
<circle cx="1053.90" cy="541.00" r="2.9" fill="#000" fill-opacity="0.46" stroke="#000" stroke-opacity="0.6" stroke-width="0.8"/>
<circle cx="1053.90" cy="547.80" r="2.9" fill="#000" fill-opacity="0.46" stroke="#000" stroke-opacity="0.6" stroke-width="0.8"/>
<circle cx="1048.30" cy="556.50" r="2.9" fill="#000" fill-opacity="0.46" stroke="#000" stroke-opacity="0.6" stroke-width="0.8"/>
<line x1="1048.30" y1="725.20" x2="1048.30" y2="737.00" stroke="#000" stroke-width="1.7" stroke-linecap="butt"/>
<text x="0.00" y="0.00" font-family='"Liberation Sans", Arial, sans-serif' font-size="21" font-weight="normal" text-anchor="end" fill="#000" transform="translate(1055.30 752.70) rotate(-45) scale(0.93 1)" stroke="#000" stroke-width="0.5">0 h</text>
<rect x="1075.40" y="541.20" width="26.20" height="184.00" fill="#8CABD5" stroke="#000" stroke-width="1.5"/>
<line x1="1088.50" y1="531.30" x2="1088.50" y2="549.90" stroke="#000" stroke-width="1.5" stroke-linecap="butt"/>
<line x1="1081.50" y1="531.30" x2="1095.50" y2="531.30" stroke="#000" stroke-width="1.5" stroke-linecap="butt"/>
<line x1="1081.50" y1="549.90" x2="1095.50" y2="549.90" stroke="#000" stroke-width="1.5" stroke-linecap="butt"/>
<circle cx="1093.80" cy="528.80" r="2.9" fill="#000" fill-opacity="0.46" stroke="#000" stroke-opacity="0.6" stroke-width="0.8"/>
<circle cx="1082.90" cy="533.60" r="2.9" fill="#000" fill-opacity="0.46" stroke="#000" stroke-opacity="0.6" stroke-width="0.8"/>
<circle cx="1082.90" cy="543.80" r="2.9" fill="#000" fill-opacity="0.46" stroke="#000" stroke-opacity="0.6" stroke-width="0.8"/>
<circle cx="1093.80" cy="546.60" r="2.9" fill="#000" fill-opacity="0.46" stroke="#000" stroke-opacity="0.6" stroke-width="0.8"/>
<circle cx="1082.90" cy="551.70" r="2.9" fill="#000" fill-opacity="0.46" stroke="#000" stroke-opacity="0.6" stroke-width="0.8"/>
<line x1="1088.50" y1="725.20" x2="1088.50" y2="737.00" stroke="#000" stroke-width="1.7" stroke-linecap="butt"/>
<text x="0.00" y="0.00" font-family='"Liberation Sans", Arial, sans-serif' font-size="21" font-weight="normal" text-anchor="end" fill="#000" transform="translate(1099.10 752.70) rotate(-45) scale(0.93 1)" stroke="#000" stroke-width="0.5">6 h</text>
<rect x="1115.30" y="535.90" width="26.20" height="189.30" fill="#8CABD5" stroke="#000" stroke-width="1.5"/>
<line x1="1128.40" y1="522.40" x2="1128.40" y2="548.40" stroke="#000" stroke-width="1.5" stroke-linecap="butt"/>
<line x1="1121.40" y1="522.40" x2="1135.40" y2="522.40" stroke="#000" stroke-width="1.5" stroke-linecap="butt"/>
<line x1="1121.40" y1="548.40" x2="1135.40" y2="548.40" stroke="#000" stroke-width="1.5" stroke-linecap="butt"/>
<circle cx="1128.40" cy="515.30" r="2.9" fill="#000" fill-opacity="0.46" stroke="#000" stroke-opacity="0.6" stroke-width="0.8"/>
<circle cx="1133.70" cy="533.10" r="2.9" fill="#000" fill-opacity="0.46" stroke="#000" stroke-opacity="0.6" stroke-width="0.8"/>
<circle cx="1122.80" cy="534.90" r="2.9" fill="#000" fill-opacity="0.46" stroke="#000" stroke-opacity="0.6" stroke-width="0.8"/>
<circle cx="1133.70" cy="544.50" r="2.9" fill="#000" fill-opacity="0.46" stroke="#000" stroke-opacity="0.6" stroke-width="0.8"/>
<circle cx="1122.80" cy="548.90" r="2.9" fill="#000" fill-opacity="0.46" stroke="#000" stroke-opacity="0.6" stroke-width="0.8"/>
<line x1="1128.40" y1="725.20" x2="1128.40" y2="737.00" stroke="#000" stroke-width="1.7" stroke-linecap="butt"/>
<text x="0.00" y="0.00" font-family='"Liberation Sans", Arial, sans-serif' font-size="21" font-weight="normal" text-anchor="end" fill="#000" transform="translate(1134.40 752.70) rotate(-45) scale(0.93 1)" stroke="#000" stroke-width="0.5">24 h</text>
<text x="0.00" y="0.00" font-family='"Liberation Sans", Arial, sans-serif' font-size="23.8" font-weight="normal" text-anchor="middle" fill="#000" transform="translate(943.30 812.00) scale(1.0 1)" stroke="#000" stroke-width="0.6">Stems</text>
<text x="0.00" y="0.00" font-family='"Liberation Sans", Arial, sans-serif' font-size="23.8" font-weight="normal" text-anchor="middle" fill="#000" transform="translate(1093.20 812.60) scale(1.012 1)" stroke="#000" stroke-width="0.6">Roots</text>
<text x="1180.70" y="466.50" font-family='"Liberation Serif", "Times New Roman", serif' font-size="54.5" font-weight="bold" text-anchor="start" fill="#000">f</text>
<line x1="1250.20" y1="446.60" x2="1855.80" y2="446.60" stroke="#000" stroke-width="1.7" stroke-linecap="butt"/>
<line x1="1855.80" y1="445.75" x2="1855.80" y2="727.35" stroke="#000" stroke-width="1.7" stroke-linecap="butt"/>
<line x1="1250.20" y1="445.75" x2="1250.20" y2="727.35" stroke="#000" stroke-width="1.7" stroke-linecap="butt"/>
<line x1="1238.60" y1="726.50" x2="1856.65" y2="726.50" stroke="#000" stroke-width="1.7" stroke-linecap="butt"/>
<line x1="1238.60" y1="726.50" x2="1250.20" y2="726.50" stroke="#000" stroke-width="1.7" stroke-linecap="butt"/>
<text x="1236.40" y="732.76" font-family='"Liberation Sans", Arial, sans-serif' font-size="17.5" font-weight="normal" text-anchor="end" fill="#000" stroke="#000" stroke-width="0.5">0</text>
<line x1="1238.60" y1="609.90" x2="1250.20" y2="609.90" stroke="#000" stroke-width="1.7" stroke-linecap="butt"/>
<text x="1236.40" y="616.16" font-family='"Liberation Sans", Arial, sans-serif' font-size="17.5" font-weight="normal" text-anchor="end" fill="#000" stroke="#000" stroke-width="0.5">5</text>
<line x1="1238.60" y1="493.30" x2="1250.20" y2="493.30" stroke="#000" stroke-width="1.7" stroke-linecap="butt"/>
<text x="1236.40" y="499.56" font-family='"Liberation Sans", Arial, sans-serif' font-size="17.5" font-weight="normal" text-anchor="end" fill="#000" stroke="#000" stroke-width="0.5">10</text>
<text x="0.00" y="0.00" font-family='"Liberation Sans", Arial, sans-serif' font-size="28.4" font-weight="normal" text-anchor="middle" fill="#000" transform="translate(1212.50 592.70) rotate(-90)" stroke="#000" stroke-width="0.5">Relative expression</text>
<rect x="1268.2" y="462.8" width="31.6" height="15.2" fill="#D9B3B0" stroke="#000" stroke-width="1.6"/>
<text x="1308.50" y="480.30" font-family='"Liberation Sans", Arial, sans-serif' font-size="25.6" font-weight="normal" text-anchor="start" fill="#000" stroke="#000" stroke-width="0.7">Control</text>
<rect x="1411.4" y="462.8" width="31.4" height="15.2" fill="#8CABD5" stroke="#000" stroke-width="1.6"/>
<text x="1450.80" y="480.30" font-family='"Liberation Sans", Arial, sans-serif' font-size="25.6" font-weight="normal" text-anchor="start" fill="#000" stroke="#000" stroke-width="0.7">Thia</text>
<rect x="1260.90" y="703.10" width="18.80" height="23.40" fill="#D9B3B0" stroke="#000" stroke-width="1.7"/>
<line x1="1270.30" y1="694.80" x2="1270.30" y2="710.10" stroke="#000" stroke-width="1.5" stroke-linecap="butt"/>
<line x1="1265.55" y1="694.80" x2="1275.05" y2="694.80" stroke="#000" stroke-width="1.5" stroke-linecap="butt"/>
<line x1="1265.55" y1="710.10" x2="1275.05" y2="710.10" stroke="#000" stroke-width="1.5" stroke-linecap="butt"/>
<circle cx="1262.90" cy="696.30" r="2.9" fill="#000" fill-opacity="0.46" stroke="#000" stroke-opacity="0.6" stroke-width="0.8"/>
<circle cx="1277.70" cy="700.60" r="2.9" fill="#000" fill-opacity="0.46" stroke="#000" stroke-opacity="0.6" stroke-width="0.8"/>
<circle cx="1270.30" cy="711.80" r="2.9" fill="#000" fill-opacity="0.46" stroke="#000" stroke-opacity="0.6" stroke-width="0.8"/>
<rect x="1328.38" y="703.40" width="18.80" height="23.10" fill="#D9B3B0" stroke="#000" stroke-width="1.7"/>
<line x1="1337.78" y1="702.80" x2="1337.78" y2="704.10" stroke="#000" stroke-width="1.5" stroke-linecap="butt"/>
<line x1="1333.03" y1="702.80" x2="1342.53" y2="702.80" stroke="#000" stroke-width="1.5" stroke-linecap="butt"/>
<line x1="1333.03" y1="704.10" x2="1342.53" y2="704.10" stroke="#000" stroke-width="1.5" stroke-linecap="butt"/>
<circle cx="1330.38" cy="703.40" r="2.9" fill="#000" fill-opacity="0.46" stroke="#000" stroke-opacity="0.6" stroke-width="0.8"/>
<circle cx="1337.78" cy="701.80" r="2.9" fill="#000" fill-opacity="0.46" stroke="#000" stroke-opacity="0.6" stroke-width="0.8"/>
<circle cx="1345.18" cy="703.40" r="2.9" fill="#000" fill-opacity="0.46" stroke="#000" stroke-opacity="0.6" stroke-width="0.8"/>
<rect x="1395.85" y="703.40" width="18.80" height="23.10" fill="#D9B3B0" stroke="#000" stroke-width="1.7"/>
<line x1="1405.25" y1="702.80" x2="1405.25" y2="704.10" stroke="#000" stroke-width="1.5" stroke-linecap="butt"/>
<line x1="1400.50" y1="702.80" x2="1410.00" y2="702.80" stroke="#000" stroke-width="1.5" stroke-linecap="butt"/>
<line x1="1400.50" y1="704.10" x2="1410.00" y2="704.10" stroke="#000" stroke-width="1.5" stroke-linecap="butt"/>
<circle cx="1397.85" cy="703.40" r="2.9" fill="#000" fill-opacity="0.46" stroke="#000" stroke-opacity="0.6" stroke-width="0.8"/>
<circle cx="1405.25" cy="701.80" r="2.9" fill="#000" fill-opacity="0.46" stroke="#000" stroke-opacity="0.6" stroke-width="0.8"/>
<circle cx="1412.65" cy="703.40" r="2.9" fill="#000" fill-opacity="0.46" stroke="#000" stroke-opacity="0.6" stroke-width="0.8"/>
<rect x="1463.33" y="703.20" width="18.80" height="23.30" fill="#D9B3B0" stroke="#000" stroke-width="1.7"/>
<line x1="1472.73" y1="699.30" x2="1472.73" y2="706.40" stroke="#000" stroke-width="1.5" stroke-linecap="butt"/>
<line x1="1467.98" y1="699.30" x2="1477.48" y2="699.30" stroke="#000" stroke-width="1.5" stroke-linecap="butt"/>
<line x1="1467.98" y1="706.40" x2="1477.48" y2="706.40" stroke="#000" stroke-width="1.5" stroke-linecap="butt"/>
<circle cx="1465.33" cy="699.30" r="2.9" fill="#000" fill-opacity="0.46" stroke="#000" stroke-opacity="0.6" stroke-width="0.8"/>
<circle cx="1480.13" cy="703.10" r="2.9" fill="#000" fill-opacity="0.46" stroke="#000" stroke-opacity="0.6" stroke-width="0.8"/>
<circle cx="1465.33" cy="706.80" r="2.9" fill="#000" fill-opacity="0.46" stroke="#000" stroke-opacity="0.6" stroke-width="0.8"/>
<rect x="1530.80" y="703.40" width="18.80" height="23.10" fill="#D9B3B0" stroke="#000" stroke-width="1.7"/>
<line x1="1540.20" y1="695.90" x2="1540.20" y2="709.30" stroke="#000" stroke-width="1.5" stroke-linecap="butt"/>
<line x1="1535.45" y1="695.90" x2="1544.95" y2="695.90" stroke="#000" stroke-width="1.5" stroke-linecap="butt"/>
<line x1="1535.45" y1="709.30" x2="1544.95" y2="709.30" stroke="#000" stroke-width="1.5" stroke-linecap="butt"/>
<circle cx="1540.20" cy="694.80" r="2.9" fill="#000" fill-opacity="0.46" stroke="#000" stroke-opacity="0.6" stroke-width="0.8"/>
<circle cx="1540.20" cy="704.30" r="2.9" fill="#000" fill-opacity="0.46" stroke="#000" stroke-opacity="0.6" stroke-width="0.8"/>
<circle cx="1540.20" cy="710.10" r="2.9" fill="#000" fill-opacity="0.46" stroke="#000" stroke-opacity="0.6" stroke-width="0.8"/>
<rect x="1598.28" y="703.50" width="18.80" height="23.00" fill="#D9B3B0" stroke="#000" stroke-width="1.7"/>
<line x1="1607.68" y1="701.80" x2="1607.68" y2="704.90" stroke="#000" stroke-width="1.5" stroke-linecap="butt"/>
<line x1="1602.93" y1="701.80" x2="1612.43" y2="701.80" stroke="#000" stroke-width="1.5" stroke-linecap="butt"/>
<line x1="1602.93" y1="704.90" x2="1612.43" y2="704.90" stroke="#000" stroke-width="1.5" stroke-linecap="butt"/>
<circle cx="1600.28" cy="705.70" r="2.9" fill="#000" fill-opacity="0.46" stroke="#000" stroke-opacity="0.6" stroke-width="0.8"/>
<circle cx="1607.68" cy="700.90" r="2.9" fill="#000" fill-opacity="0.46" stroke="#000" stroke-opacity="0.6" stroke-width="0.8"/>
<circle cx="1615.08" cy="701.80" r="2.9" fill="#000" fill-opacity="0.46" stroke="#000" stroke-opacity="0.6" stroke-width="0.8"/>
<rect x="1665.75" y="703.20" width="18.80" height="23.30" fill="#D9B3B0" stroke="#000" stroke-width="1.7"/>
<line x1="1675.15" y1="700.10" x2="1675.15" y2="706.20" stroke="#000" stroke-width="1.5" stroke-linecap="butt"/>
<line x1="1670.40" y1="700.10" x2="1679.90" y2="700.10" stroke="#000" stroke-width="1.5" stroke-linecap="butt"/>
<line x1="1670.40" y1="706.20" x2="1679.90" y2="706.20" stroke="#000" stroke-width="1.5" stroke-linecap="butt"/>
<circle cx="1667.75" cy="700.60" r="2.9" fill="#000" fill-opacity="0.46" stroke="#000" stroke-opacity="0.6" stroke-width="0.8"/>
<circle cx="1682.55" cy="701.50" r="2.9" fill="#000" fill-opacity="0.46" stroke="#000" stroke-opacity="0.6" stroke-width="0.8"/>
<circle cx="1667.75" cy="706.90" r="2.9" fill="#000" fill-opacity="0.46" stroke="#000" stroke-opacity="0.6" stroke-width="0.8"/>
<rect x="1733.22" y="703.50" width="18.80" height="23.00" fill="#D9B3B0" stroke="#000" stroke-width="1.7"/>
<line x1="1742.62" y1="701.50" x2="1742.62" y2="705.20" stroke="#000" stroke-width="1.5" stroke-linecap="butt"/>
<line x1="1737.88" y1="701.50" x2="1747.38" y2="701.50" stroke="#000" stroke-width="1.5" stroke-linecap="butt"/>
<line x1="1737.88" y1="705.20" x2="1747.38" y2="705.20" stroke="#000" stroke-width="1.5" stroke-linecap="butt"/>
<circle cx="1735.22" cy="705.70" r="2.9" fill="#000" fill-opacity="0.46" stroke="#000" stroke-opacity="0.6" stroke-width="0.8"/>
<circle cx="1742.62" cy="700.10" r="2.9" fill="#000" fill-opacity="0.46" stroke="#000" stroke-opacity="0.6" stroke-width="0.8"/>
<circle cx="1750.03" cy="702.30" r="2.9" fill="#000" fill-opacity="0.46" stroke="#000" stroke-opacity="0.6" stroke-width="0.8"/>
<rect x="1800.70" y="703.50" width="18.80" height="23.00" fill="#D9B3B0" stroke="#000" stroke-width="1.7"/>
<line x1="1810.10" y1="700.10" x2="1810.10" y2="705.70" stroke="#000" stroke-width="1.5" stroke-linecap="butt"/>
<line x1="1805.35" y1="700.10" x2="1814.85" y2="700.10" stroke="#000" stroke-width="1.5" stroke-linecap="butt"/>
<line x1="1805.35" y1="705.70" x2="1814.85" y2="705.70" stroke="#000" stroke-width="1.5" stroke-linecap="butt"/>
<circle cx="1802.70" cy="700.10" r="2.9" fill="#000" fill-opacity="0.46" stroke="#000" stroke-opacity="0.6" stroke-width="0.8"/>
<circle cx="1817.50" cy="702.30" r="2.9" fill="#000" fill-opacity="0.46" stroke="#000" stroke-opacity="0.6" stroke-width="0.8"/>
<circle cx="1802.70" cy="706.20" r="2.9" fill="#000" fill-opacity="0.46" stroke="#000" stroke-opacity="0.6" stroke-width="0.8"/>
<rect x="1286.80" y="575.20" width="18.80" height="151.30" fill="#8CABD5" stroke="#000" stroke-width="1.7"/>
<line x1="1296.20" y1="554.70" x2="1296.20" y2="595.50" stroke="#000" stroke-width="1.5" stroke-linecap="butt"/>
<line x1="1291.45" y1="554.70" x2="1300.95" y2="554.70" stroke="#000" stroke-width="1.5" stroke-linecap="butt"/>
<line x1="1291.45" y1="595.50" x2="1300.95" y2="595.50" stroke="#000" stroke-width="1.5" stroke-linecap="butt"/>
<circle cx="1296.20" cy="556.50" r="2.9" fill="#000" fill-opacity="0.46" stroke="#000" stroke-opacity="0.6" stroke-width="0.8"/>
<circle cx="1296.20" cy="574.70" r="2.9" fill="#000" fill-opacity="0.46" stroke="#000" stroke-opacity="0.6" stroke-width="0.8"/>
<circle cx="1296.20" cy="596.00" r="2.9" fill="#000" fill-opacity="0.46" stroke="#000" stroke-opacity="0.6" stroke-width="0.8"/>
<text x="0.00" y="0.00" font-family='"Liberation Serif", "Times New Roman", serif' font-size="23.3" font-weight="normal" text-anchor="middle" fill="#000" transform="translate(1293.90 548.76) scale(0.915 1)" stroke="#000" stroke-width="0.2">*</text>
<rect x="1354.27" y="717.10" width="18.80" height="9.40" fill="#8CABD5" stroke="#000" stroke-width="1.7"/>
<line x1="1363.67" y1="716.50" x2="1363.67" y2="717.80" stroke="#000" stroke-width="1.5" stroke-linecap="butt"/>
<line x1="1358.92" y1="716.50" x2="1368.42" y2="716.50" stroke="#000" stroke-width="1.5" stroke-linecap="butt"/>
<line x1="1358.92" y1="717.80" x2="1368.42" y2="717.80" stroke="#000" stroke-width="1.5" stroke-linecap="butt"/>
<circle cx="1356.27" cy="717.10" r="2.9" fill="#000" fill-opacity="0.46" stroke="#000" stroke-opacity="0.6" stroke-width="0.8"/>
<circle cx="1363.67" cy="715.50" r="2.9" fill="#000" fill-opacity="0.46" stroke="#000" stroke-opacity="0.6" stroke-width="0.8"/>
<circle cx="1371.08" cy="716.80" r="2.9" fill="#000" fill-opacity="0.46" stroke="#000" stroke-opacity="0.6" stroke-width="0.8"/>
<text x="0.00" y="0.00" font-family='"Liberation Serif", "Times New Roman", serif' font-size="23.3" font-weight="normal" text-anchor="middle" fill="#000" transform="translate(1363.20 709.36) scale(0.915 1)" stroke="#000" stroke-width="0.2">**</text>
<rect x="1421.75" y="676.40" width="18.80" height="50.10" fill="#8CABD5" stroke="#000" stroke-width="1.7"/>
<line x1="1431.15" y1="665.90" x2="1431.15" y2="686.20" stroke="#000" stroke-width="1.5" stroke-linecap="butt"/>
<line x1="1426.40" y1="665.90" x2="1435.90" y2="665.90" stroke="#000" stroke-width="1.5" stroke-linecap="butt"/>
<line x1="1426.40" y1="686.20" x2="1435.90" y2="686.20" stroke="#000" stroke-width="1.5" stroke-linecap="butt"/>
<circle cx="1431.15" cy="664.70" r="2.9" fill="#000" fill-opacity="0.46" stroke="#000" stroke-opacity="0.6" stroke-width="0.8"/>
<circle cx="1431.15" cy="680.10" r="2.9" fill="#000" fill-opacity="0.46" stroke="#000" stroke-opacity="0.6" stroke-width="0.8"/>
<circle cx="1431.15" cy="685.10" r="2.9" fill="#000" fill-opacity="0.46" stroke="#000" stroke-opacity="0.6" stroke-width="0.8"/>
<text x="0.00" y="0.00" font-family='"Liberation Serif", "Times New Roman", serif' font-size="23.3" font-weight="normal" text-anchor="middle" fill="#000" transform="translate(1430.70 659.26) scale(0.915 1)" stroke="#000" stroke-width="0.2">*</text>
<rect x="1489.22" y="711.00" width="18.80" height="15.50" fill="#8CABD5" stroke="#000" stroke-width="1.7"/>
<line x1="1498.62" y1="707.10" x2="1498.62" y2="713.00" stroke="#000" stroke-width="1.5" stroke-linecap="butt"/>
<line x1="1493.88" y1="707.10" x2="1503.38" y2="707.10" stroke="#000" stroke-width="1.5" stroke-linecap="butt"/>
<line x1="1493.88" y1="713.00" x2="1503.38" y2="713.00" stroke="#000" stroke-width="1.5" stroke-linecap="butt"/>
<circle cx="1491.22" cy="706.80" r="2.9" fill="#000" fill-opacity="0.46" stroke="#000" stroke-opacity="0.6" stroke-width="0.8"/>
<circle cx="1506.03" cy="709.30" r="2.9" fill="#000" fill-opacity="0.46" stroke="#000" stroke-opacity="0.6" stroke-width="0.8"/>
<circle cx="1491.22" cy="713.00" r="2.9" fill="#000" fill-opacity="0.46" stroke="#000" stroke-opacity="0.6" stroke-width="0.8"/>
<rect x="1556.70" y="705.70" width="18.80" height="20.80" fill="#8CABD5" stroke="#000" stroke-width="1.7"/>
<line x1="1566.10" y1="699.70" x2="1566.10" y2="709.10" stroke="#000" stroke-width="1.5" stroke-linecap="butt"/>
<line x1="1561.35" y1="699.70" x2="1570.85" y2="699.70" stroke="#000" stroke-width="1.5" stroke-linecap="butt"/>
<line x1="1561.35" y1="709.10" x2="1570.85" y2="709.10" stroke="#000" stroke-width="1.5" stroke-linecap="butt"/>
<circle cx="1566.10" cy="698.40" r="2.9" fill="#000" fill-opacity="0.46" stroke="#000" stroke-opacity="0.6" stroke-width="0.8"/>
<circle cx="1560.10" cy="708.30" r="2.9" fill="#000" fill-opacity="0.46" stroke="#000" stroke-opacity="0.6" stroke-width="0.8"/>
<circle cx="1572.10" cy="708.30" r="2.9" fill="#000" fill-opacity="0.46" stroke="#000" stroke-opacity="0.6" stroke-width="0.8"/>
<rect x="1624.17" y="705.20" width="18.80" height="21.30" fill="#8CABD5" stroke="#000" stroke-width="1.7"/>
<line x1="1633.58" y1="704.50" x2="1633.58" y2="705.90" stroke="#000" stroke-width="1.5" stroke-linecap="butt"/>
<line x1="1628.83" y1="704.50" x2="1638.33" y2="704.50" stroke="#000" stroke-width="1.5" stroke-linecap="butt"/>
<line x1="1628.83" y1="705.90" x2="1638.33" y2="705.90" stroke="#000" stroke-width="1.5" stroke-linecap="butt"/>
<circle cx="1626.17" cy="705.20" r="2.9" fill="#000" fill-opacity="0.46" stroke="#000" stroke-opacity="0.6" stroke-width="0.8"/>
<circle cx="1633.58" cy="704.00" r="2.9" fill="#000" fill-opacity="0.46" stroke="#000" stroke-opacity="0.6" stroke-width="0.8"/>
<circle cx="1640.98" cy="704.50" r="2.9" fill="#000" fill-opacity="0.46" stroke="#000" stroke-opacity="0.6" stroke-width="0.8"/>
<rect x="1691.65" y="545.30" width="18.80" height="181.20" fill="#8CABD5" stroke="#000" stroke-width="1.7"/>
<line x1="1701.05" y1="512.30" x2="1701.05" y2="577.10" stroke="#000" stroke-width="1.5" stroke-linecap="butt"/>
<line x1="1696.30" y1="512.30" x2="1705.80" y2="512.30" stroke="#000" stroke-width="1.5" stroke-linecap="butt"/>
<line x1="1696.30" y1="577.10" x2="1705.80" y2="577.10" stroke="#000" stroke-width="1.5" stroke-linecap="butt"/>
<circle cx="1701.05" cy="509.30" r="2.9" fill="#000" fill-opacity="0.46" stroke="#000" stroke-opacity="0.6" stroke-width="0.8"/>
<circle cx="1701.05" cy="551.60" r="2.9" fill="#000" fill-opacity="0.46" stroke="#000" stroke-opacity="0.6" stroke-width="0.8"/>
<circle cx="1701.05" cy="573.70" r="2.9" fill="#000" fill-opacity="0.46" stroke="#000" stroke-opacity="0.6" stroke-width="0.8"/>
<text x="0.00" y="0.00" font-family='"Liberation Serif", "Times New Roman", serif' font-size="23.3" font-weight="normal" text-anchor="middle" fill="#000" transform="translate(1700.90 504.66) scale(0.915 1)" stroke="#000" stroke-width="0.2">*</text>
<rect x="1759.12" y="686.10" width="18.80" height="40.40" fill="#8CABD5" stroke="#000" stroke-width="1.7"/>
<line x1="1768.52" y1="684.90" x2="1768.52" y2="686.90" stroke="#000" stroke-width="1.5" stroke-linecap="butt"/>
<line x1="1763.77" y1="684.90" x2="1773.27" y2="684.90" stroke="#000" stroke-width="1.5" stroke-linecap="butt"/>
<line x1="1763.77" y1="686.90" x2="1773.27" y2="686.90" stroke="#000" stroke-width="1.5" stroke-linecap="butt"/>
<circle cx="1761.12" cy="687.80" r="2.9" fill="#000" fill-opacity="0.46" stroke="#000" stroke-opacity="0.6" stroke-width="0.8"/>
<circle cx="1768.52" cy="683.90" r="2.9" fill="#000" fill-opacity="0.46" stroke="#000" stroke-opacity="0.6" stroke-width="0.8"/>
<circle cx="1775.92" cy="684.90" r="2.9" fill="#000" fill-opacity="0.46" stroke="#000" stroke-opacity="0.6" stroke-width="0.8"/>
<text x="0.00" y="0.00" font-family='"Liberation Serif", "Times New Roman", serif' font-size="23.3" font-weight="normal" text-anchor="middle" fill="#000" transform="translate(1767.90 678.26) scale(0.915 1)" stroke="#000" stroke-width="0.2">**</text>
<rect x="1826.60" y="717.70" width="18.80" height="8.80" fill="#8CABD5" stroke="#000" stroke-width="1.7"/>
<line x1="1836.00" y1="716.30" x2="1836.00" y2="718.90" stroke="#000" stroke-width="1.5" stroke-linecap="butt"/>
<line x1="1831.25" y1="716.30" x2="1840.75" y2="716.30" stroke="#000" stroke-width="1.5" stroke-linecap="butt"/>
<line x1="1831.25" y1="718.90" x2="1840.75" y2="718.90" stroke="#000" stroke-width="1.5" stroke-linecap="butt"/>
<circle cx="1828.60" cy="718.90" r="2.9" fill="#000" fill-opacity="0.46" stroke="#000" stroke-opacity="0.6" stroke-width="0.8"/>
<circle cx="1836.00" cy="714.60" r="2.9" fill="#000" fill-opacity="0.46" stroke="#000" stroke-opacity="0.6" stroke-width="0.8"/>
<circle cx="1843.40" cy="718.50" r="2.9" fill="#000" fill-opacity="0.46" stroke="#000" stroke-opacity="0.6" stroke-width="0.8"/>
<text x="0.00" y="0.00" font-family='"Liberation Serif", "Times New Roman", serif' font-size="23.3" font-weight="normal" text-anchor="middle" fill="#000" transform="translate(1834.00 711.56) scale(0.915 1)" stroke="#000" stroke-width="0.2">*</text>
<line x1="1282.90" y1="726.50" x2="1282.90" y2="737.50" stroke="#000" stroke-width="1.7" stroke-linecap="butt"/>
<text x="0.00" y="0.00" font-family='"Liberation Sans", Arial, sans-serif' font-size="20.4" font-weight="normal" text-anchor="end" fill="#000" letter-spacing="-0.5" transform="translate(1288.20 756.30) rotate(-45)" stroke="#000" stroke-width="0.5">BrRBOH03</text>
<line x1="1350.38" y1="726.50" x2="1350.38" y2="737.50" stroke="#000" stroke-width="1.7" stroke-linecap="butt"/>
<text x="0.00" y="0.00" font-family='"Liberation Sans", Arial, sans-serif' font-size="20.4" font-weight="normal" text-anchor="end" fill="#000" letter-spacing="-0.5" transform="translate(1355.67 756.30) rotate(-45)" stroke="#000" stroke-width="0.5">BrRBOH04</text>
<line x1="1417.85" y1="726.50" x2="1417.85" y2="737.50" stroke="#000" stroke-width="1.7" stroke-linecap="butt"/>
<text x="0.00" y="0.00" font-family='"Liberation Sans", Arial, sans-serif' font-size="20.4" font-weight="normal" text-anchor="end" fill="#000" letter-spacing="-0.5" transform="translate(1423.15 756.30) rotate(-45)" stroke="#000" stroke-width="0.5">BrRBOH06</text>
<line x1="1485.33" y1="726.50" x2="1485.33" y2="737.50" stroke="#000" stroke-width="1.7" stroke-linecap="butt"/>
<text x="0.00" y="0.00" font-family='"Liberation Sans", Arial, sans-serif' font-size="20.4" font-weight="normal" text-anchor="end" fill="#000" letter-spacing="-0.5" transform="translate(1490.62 756.30) rotate(-45)" stroke="#000" stroke-width="0.5">BrRBOH08</text>
<line x1="1552.80" y1="726.50" x2="1552.80" y2="737.50" stroke="#000" stroke-width="1.7" stroke-linecap="butt"/>
<text x="0.00" y="0.00" font-family='"Liberation Sans", Arial, sans-serif' font-size="20.4" font-weight="normal" text-anchor="end" fill="#000" letter-spacing="-0.5" transform="translate(1558.10 756.30) rotate(-45)" stroke="#000" stroke-width="0.5">BrRBOH09</text>
<line x1="1620.28" y1="726.50" x2="1620.28" y2="737.50" stroke="#000" stroke-width="1.7" stroke-linecap="butt"/>
<text x="0.00" y="0.00" font-family='"Liberation Sans", Arial, sans-serif' font-size="20.4" font-weight="normal" text-anchor="end" fill="#000" letter-spacing="-0.5" transform="translate(1625.58 756.30) rotate(-45)" stroke="#000" stroke-width="0.5">BrRBOH10</text>
<line x1="1687.75" y1="726.50" x2="1687.75" y2="737.50" stroke="#000" stroke-width="1.7" stroke-linecap="butt"/>
<text x="0.00" y="0.00" font-family='"Liberation Sans", Arial, sans-serif' font-size="20.4" font-weight="normal" text-anchor="end" fill="#000" letter-spacing="-0.5" transform="translate(1693.05 756.30) rotate(-45)" stroke="#000" stroke-width="0.5">BrRBOH12</text>
<line x1="1755.22" y1="726.50" x2="1755.22" y2="737.50" stroke="#000" stroke-width="1.7" stroke-linecap="butt"/>
<text x="0.00" y="0.00" font-family='"Liberation Sans", Arial, sans-serif' font-size="20.4" font-weight="normal" text-anchor="end" fill="#000" letter-spacing="-0.5" transform="translate(1760.52 756.30) rotate(-45)" stroke="#000" stroke-width="0.5">BrRBOH13</text>
<line x1="1822.70" y1="726.50" x2="1822.70" y2="737.50" stroke="#000" stroke-width="1.7" stroke-linecap="butt"/>
<text x="0.00" y="0.00" font-family='"Liberation Sans", Arial, sans-serif' font-size="20.4" font-weight="normal" text-anchor="end" fill="#000" letter-spacing="-0.5" transform="translate(1828.00 756.30) rotate(-45)" stroke="#000" stroke-width="0.5">BrRBOH14</text>
</svg>
</body></html>
